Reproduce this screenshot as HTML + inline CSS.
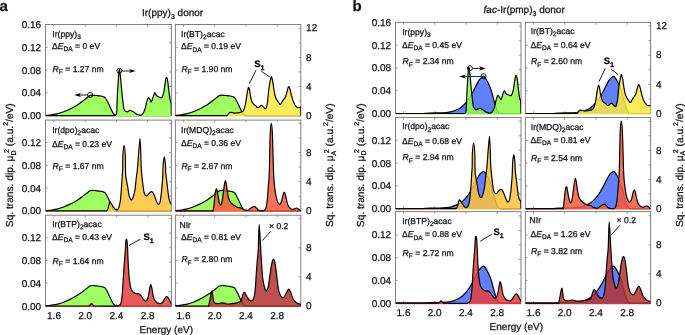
<!DOCTYPE html>
<html><head><meta charset="utf-8"><style>
html,body{margin:0;padding:0;background:#fff;width:685px;height:335px;overflow:hidden}
svg{display:block;will-change:transform}
text{font-family:"Liberation Sans",sans-serif;text-rendering:geometricPrecision;stroke:#111;stroke-width:0.25px;paint-order:stroke}
</style></head><body>
<svg width="685" height="335" viewBox="0 0 685 335" font-family='&quot;Liberation Sans&quot;, sans-serif' fill="#111">
<rect width="685" height="335" fill="#fff"/>
<clipPath id="ca00"><rect x="45.5" y="24.5" width="125.9" height="93.1"/></clipPath>
<rect x="45.5" y="24.5" width="125.9" height="91.1" fill="none" stroke="#808080" stroke-width="1"/>
<path d="M54,24.5v2.2M54,115.6v-2.2M85.24,24.5v2.2M85.24,115.6v-2.2M116.48,24.5v2.2M116.48,115.6v-2.2M147.72,24.5v2.2M147.72,115.6v-2.2M45.5,92.84h2.2M45.5,70.08h2.2M45.5,47.32h2.2M171.4,101.04h-2.2M171.4,86.48h-2.2M171.4,71.92h-2.2M171.4,57.36h-2.2M171.4,42.8h-2.2M171.4,28.24h-2.2" stroke="#808080" stroke-width="0.8" fill="none"/>
<g clip-path="url(#ca00)">
<path d="M45.5,115.5 C46.58,115.38 49.95,115.1 52,114.8 C54.05,114.5 55.85,114.2 57.8,113.7 C59.75,113.2 61.75,112.55 63.7,111.8 C65.65,111.05 67.75,110.05 69.5,109.2 C71.25,108.35 72.72,107.53 74.2,106.7 C75.68,105.87 77.02,105.1 78.4,104.2 C79.78,103.3 81.12,102.33 82.5,101.3 C83.88,100.27 85.45,98.95 86.7,98 C87.95,97.05 89.03,96.08 90,95.6 C90.97,95.12 91.52,95.12 92.5,95.1 C93.48,95.08 94.63,95.37 95.9,95.5 C97.17,95.63 98.85,95.7 100.1,95.9 C101.35,96.1 102.52,96.35 103.4,96.7 C104.28,97.05 104.62,96.98 105.4,98 C106.18,99.02 107.23,101.1 108.1,102.8 C108.97,104.5 109.87,106.65 110.6,108.2 C111.33,109.75 111.88,111.05 112.5,112.1 C113.12,113.15 113.72,113.93 114.3,114.5 C114.88,115.07 115.55,115.32 116,115.5 C116.45,115.68 116,115.58 117,115.6 C126.23,115.62 162.33,115.6 171.4,115.6 L45.5,115.6 Z" fill="#a0ff60" stroke="none"/>
<path d="M45.5,115.5 C46.58,115.38 49.95,115.1 52,114.8 C54.05,114.5 55.85,114.2 57.8,113.7 C59.75,113.2 61.75,112.55 63.7,111.8 C65.65,111.05 67.75,110.05 69.5,109.2 C71.25,108.35 72.72,107.53 74.2,106.7 C75.68,105.87 77.02,105.1 78.4,104.2 C79.78,103.3 81.12,102.33 82.5,101.3 C83.88,100.27 85.45,98.95 86.7,98 C87.95,97.05 89.03,96.08 90,95.6 C90.97,95.12 91.52,95.12 92.5,95.1 C93.48,95.08 94.63,95.37 95.9,95.5 C97.17,95.63 98.85,95.7 100.1,95.9 C101.35,96.1 102.52,96.35 103.4,96.7 C104.28,97.05 104.62,96.98 105.4,98 C106.18,99.02 107.23,101.1 108.1,102.8 C108.97,104.5 109.87,106.65 110.6,108.2 C111.33,109.75 111.88,111.05 112.5,112.1 C113.12,113.15 113.72,113.93 114.3,114.5 C114.88,115.07 115.55,115.32 116,115.5 C116.45,115.68 116,115.58 117,115.6 C126.23,115.62 162.33,115.6 171.4,115.6" fill="none" stroke="#000" stroke-width="1.2" stroke-linejoin="round"/>
<path d="M45.5,115.6 C56.83,115.6 102,115.6 113.5,115.6 C114.5,115.6 114.12,115.7 114.5,115.6 C114.88,115.5 115.44,115.57 115.8,115 C116.16,114.43 116.42,115.47 116.68,112.2 C116.94,108.93 117.12,100.42 117.37,95.4 C117.62,90.38 117.92,86 118.18,82.1 C118.44,78.2 118.68,74.05 118.91,72 C119.15,69.95 119.31,68.68 119.6,69.8 C119.89,70.92 120.27,74.98 120.64,78.7 C121.02,82.42 121.43,87.92 121.85,92.1 C122.28,96.28 122.81,100.87 123.2,103.8 C123.59,106.73 123.62,108.37 124.2,109.7 C124.78,111.03 125.87,111.62 126.7,111.8 C127.53,111.98 128.5,111.02 129.2,110.8 C129.9,110.58 130.2,110.33 130.9,110.5 C131.6,110.67 132.43,111.18 133.4,111.8 C134.37,112.42 135.58,113.63 136.7,114.2 C137.82,114.77 139.12,115.2 140.1,115.2 C141.08,115.2 141.77,115.27 142.6,114.2 C143.43,113.13 144.4,110.95 145.1,108.8 C145.8,106.65 146.25,103.18 146.8,101.3 C147.35,99.42 147.85,97.78 148.4,97.5 C148.95,97.22 149.6,98.88 150.1,99.6 C150.6,100.32 150.9,102.22 151.4,101.8 C151.9,101.38 152.53,98.58 153.1,97.1 C153.67,95.62 154.25,93.18 154.8,92.9 C155.35,92.62 155.78,94.75 156.4,95.4 C157.02,96.05 157.6,96.45 158.5,96.8 C159.4,97.15 160.92,98.28 161.8,97.5 C162.68,96.72 163.18,94.95 163.8,92.1 C164.42,89.25 165.05,82.85 165.5,80.4 C165.95,77.95 166.15,77.4 166.5,77.4 C166.85,77.4 167.22,78.23 167.6,80.4 C167.98,82.57 168.37,87.05 168.8,90.4 C169.23,93.75 169.8,98.27 170.2,100.5 C170.6,102.73 171,101.28 171.2,103.8 C171.4,106.32 171.37,113.63 171.4,115.6 L171.4,116.6 L45.5,116.6 Z" fill="#a0ff60" fill-opacity="1" stroke="none"/>
<path d="M45.5,115.6 C56.83,115.6 102,115.6 113.5,115.6 C114.5,115.6 114.12,115.7 114.5,115.6 C114.88,115.5 115.44,115.57 115.8,115 C116.16,114.43 116.42,115.47 116.68,112.2 C116.94,108.93 117.12,100.42 117.37,95.4 C117.62,90.38 117.92,86 118.18,82.1 C118.44,78.2 118.68,74.05 118.91,72 C119.15,69.95 119.31,68.68 119.6,69.8 C119.89,70.92 120.27,74.98 120.64,78.7 C121.02,82.42 121.43,87.92 121.85,92.1 C122.28,96.28 122.81,100.87 123.2,103.8 C123.59,106.73 123.62,108.37 124.2,109.7 C124.78,111.03 125.87,111.62 126.7,111.8 C127.53,111.98 128.5,111.02 129.2,110.8 C129.9,110.58 130.2,110.33 130.9,110.5 C131.6,110.67 132.43,111.18 133.4,111.8 C134.37,112.42 135.58,113.63 136.7,114.2 C137.82,114.77 139.12,115.2 140.1,115.2 C141.08,115.2 141.77,115.27 142.6,114.2 C143.43,113.13 144.4,110.95 145.1,108.8 C145.8,106.65 146.25,103.18 146.8,101.3 C147.35,99.42 147.85,97.78 148.4,97.5 C148.95,97.22 149.6,98.88 150.1,99.6 C150.6,100.32 150.9,102.22 151.4,101.8 C151.9,101.38 152.53,98.58 153.1,97.1 C153.67,95.62 154.25,93.18 154.8,92.9 C155.35,92.62 155.78,94.75 156.4,95.4 C157.02,96.05 157.6,96.45 158.5,96.8 C159.4,97.15 160.92,98.28 161.8,97.5 C162.68,96.72 163.18,94.95 163.8,92.1 C164.42,89.25 165.05,82.85 165.5,80.4 C165.95,77.95 166.15,77.4 166.5,77.4 C166.85,77.4 167.22,78.23 167.6,80.4 C167.98,82.57 168.37,87.05 168.8,90.4 C169.23,93.75 169.8,98.27 170.2,100.5 C170.6,102.73 171,101.28 171.2,103.8 C171.4,106.32 171.37,113.63 171.4,115.6" fill="none" stroke="#000" stroke-width="1.2" stroke-linejoin="round"/>
</g>
<text x="52.3" y="36.5" font-size="8.6" text-anchor="start">Ir(ppy)<tspan font-size="6.6" dy="2.3">3</tspan></text>
<text x="52" y="48.8" font-size="8.6" text-anchor="start">Δ<tspan font-style="italic">E</tspan><tspan font-size="6.6" dy="2.3">DA</tspan><tspan dy="-2.3"> = 0 eV</tspan></text>
<text x="52.6" y="71.5" font-size="8.6" text-anchor="start"><tspan font-style="italic">R</tspan><tspan font-size="6.6" dy="2.3">F</tspan><tspan dy="-2.3"> = 1.27 nm</tspan></text>
<clipPath id="ca01"><rect x="175.4" y="24.5" width="125.4" height="93.1"/></clipPath>
<rect x="175.4" y="24.5" width="125.4" height="91.1" fill="none" stroke="#808080" stroke-width="1"/>
<path d="M183.5,24.5v2.2M183.5,115.6v-2.2M214.74,24.5v2.2M214.74,115.6v-2.2M245.98,24.5v2.2M245.98,115.6v-2.2M277.22,24.5v2.2M277.22,115.6v-2.2M175.4,92.84h2.2M175.4,70.08h2.2M175.4,47.32h2.2M300.8,101.04h-2.2M300.8,86.48h-2.2M300.8,71.92h-2.2M300.8,57.36h-2.2M300.8,42.8h-2.2M300.8,28.24h-2.2" stroke="#808080" stroke-width="0.8" fill="none"/>
<g clip-path="url(#ca01)">
<path d="M175,115.5 C176.08,115.38 179.45,115.1 181.5,114.8 C183.55,114.5 185.35,114.2 187.3,113.7 C189.25,113.2 191.25,112.55 193.2,111.8 C195.15,111.05 197.25,110.05 199,109.2 C200.75,108.35 202.22,107.53 203.7,106.7 C205.18,105.87 206.52,105.1 207.9,104.2 C209.28,103.3 210.62,102.33 212,101.3 C213.38,100.27 214.95,98.95 216.2,98 C217.45,97.05 218.53,96.08 219.5,95.6 C220.47,95.12 221.02,95.12 222,95.1 C222.98,95.08 224.13,95.37 225.4,95.5 C226.67,95.63 228.35,95.7 229.6,95.9 C230.85,96.1 232.02,96.35 232.9,96.7 C233.78,97.05 234.12,96.98 234.9,98 C235.68,99.02 236.73,101.1 237.6,102.8 C238.47,104.5 239.37,106.65 240.1,108.2 C240.83,109.75 241.38,111.05 242,112.1 C242.62,113.15 243.22,113.93 243.8,114.5 C244.38,115.07 245.05,115.32 245.5,115.5 C245.95,115.68 245.5,115.58 246.5,115.6 C255.72,115.62 291.75,115.6 300.8,115.6 L175,115.6 Z" fill="#a0ff60" stroke="none"/>
<path d="M175,115.5 C176.08,115.38 179.45,115.1 181.5,114.8 C183.55,114.5 185.35,114.2 187.3,113.7 C189.25,113.2 191.25,112.55 193.2,111.8 C195.15,111.05 197.25,110.05 199,109.2 C200.75,108.35 202.22,107.53 203.7,106.7 C205.18,105.87 206.52,105.1 207.9,104.2 C209.28,103.3 210.62,102.33 212,101.3 C213.38,100.27 214.95,98.95 216.2,98 C217.45,97.05 218.53,96.08 219.5,95.6 C220.47,95.12 221.02,95.12 222,95.1 C222.98,95.08 224.13,95.37 225.4,95.5 C226.67,95.63 228.35,95.7 229.6,95.9 C230.85,96.1 232.02,96.35 232.9,96.7 C233.78,97.05 234.12,96.98 234.9,98 C235.68,99.02 236.73,101.1 237.6,102.8 C238.47,104.5 239.37,106.65 240.1,108.2 C240.83,109.75 241.38,111.05 242,112.1 C242.62,113.15 243.22,113.93 243.8,114.5 C244.38,115.07 245.05,115.32 245.5,115.5 C245.95,115.68 245.5,115.58 246.5,115.6 C255.72,115.62 291.75,115.6 300.8,115.6" fill="none" stroke="#000" stroke-width="1.2" stroke-linejoin="round"/>
<path d="M175.4,115.6 C183.75,115.6 216.98,115.6 225.5,115.6 C226.5,115.6 226.22,115.63 226.5,115.6 C226.78,115.57 226.8,115.82 227.2,115.4 C227.6,114.98 228.35,113.62 228.9,113.1 C229.45,112.58 229.87,112.38 230.5,112.3 C231.13,112.22 231.97,112.47 232.7,112.6 C233.43,112.73 234.17,113.05 234.9,113.1 C235.63,113.15 236.37,112.98 237.1,112.9 C237.83,112.82 238.55,112.75 239.3,112.6 C240.05,112.45 240.95,112.28 241.6,112 C242.25,111.72 242.7,111.63 243.2,110.9 C243.7,110.17 244.13,109.25 244.6,107.6 C245.07,105.95 245.58,103.38 246,101 C246.42,98.62 246.73,95.42 247.1,93.3 C247.47,91.18 247.93,89.27 248.2,88.3 C248.47,87.33 248.48,87.23 248.7,87.5 C248.92,87.77 249.18,88.38 249.5,89.9 C249.82,91.42 250.18,94.57 250.6,96.6 C251.02,98.63 251.48,100.82 252,102.1 C252.52,103.38 253.05,103.65 253.7,104.3 C254.35,104.95 255.23,105.45 255.9,106 C256.57,106.55 257.13,107.43 257.7,107.6 C258.27,107.77 258.7,107.38 259.3,107 C259.9,106.62 260.6,105.28 261.3,105.3 C262,105.32 262.75,106.55 263.5,107.1 C264.25,107.65 265.13,109.4 265.8,108.6 C266.47,107.8 267.03,105.23 267.5,102.3 C267.97,99.37 268.22,94.2 268.6,91 C268.98,87.8 269.42,85.27 269.8,83.1 C270.18,80.93 270.62,79.05 270.9,78 C271.18,76.95 271.22,76.33 271.5,76.8 C271.78,77.27 272.22,78.82 272.6,80.8 C272.98,82.78 273.42,86.33 273.8,88.7 C274.18,91.07 274.43,93.2 274.9,95 C275.37,96.8 275.93,98.18 276.6,99.5 C277.27,100.82 278.25,102.07 278.9,102.9 C279.55,103.73 279.87,104.87 280.5,104.5 C281.13,104.13 281.87,101.98 282.7,100.7 C283.53,99.42 284.77,98.37 285.5,96.8 C286.23,95.23 286.6,92.97 287.1,91.3 C287.6,89.63 288.03,87.18 288.5,86.8 C288.97,86.42 289.4,87.52 289.9,89 C290.4,90.48 290.95,93.67 291.5,95.7 C292.05,97.73 292.55,99.55 293.2,101.2 C293.85,102.85 294.67,104.53 295.4,105.6 C296.13,106.67 296.87,107.27 297.6,107.6 C298.33,107.93 299.28,107.65 299.8,107.6 C300.32,107.55 300.53,105.97 300.7,107.3 C300.8,108.63 300.78,114.22 300.8,115.6 L300.8,116.6 L175.4,116.6 Z" fill="rgb(255,233,63)" fill-opacity="0.85" stroke="none"/>
<path d="M175.4,115.6 C183.75,115.6 216.98,115.6 225.5,115.6 C226.5,115.6 226.22,115.63 226.5,115.6 C226.78,115.57 226.8,115.82 227.2,115.4 C227.6,114.98 228.35,113.62 228.9,113.1 C229.45,112.58 229.87,112.38 230.5,112.3 C231.13,112.22 231.97,112.47 232.7,112.6 C233.43,112.73 234.17,113.05 234.9,113.1 C235.63,113.15 236.37,112.98 237.1,112.9 C237.83,112.82 238.55,112.75 239.3,112.6 C240.05,112.45 240.95,112.28 241.6,112 C242.25,111.72 242.7,111.63 243.2,110.9 C243.7,110.17 244.13,109.25 244.6,107.6 C245.07,105.95 245.58,103.38 246,101 C246.42,98.62 246.73,95.42 247.1,93.3 C247.47,91.18 247.93,89.27 248.2,88.3 C248.47,87.33 248.48,87.23 248.7,87.5 C248.92,87.77 249.18,88.38 249.5,89.9 C249.82,91.42 250.18,94.57 250.6,96.6 C251.02,98.63 251.48,100.82 252,102.1 C252.52,103.38 253.05,103.65 253.7,104.3 C254.35,104.95 255.23,105.45 255.9,106 C256.57,106.55 257.13,107.43 257.7,107.6 C258.27,107.77 258.7,107.38 259.3,107 C259.9,106.62 260.6,105.28 261.3,105.3 C262,105.32 262.75,106.55 263.5,107.1 C264.25,107.65 265.13,109.4 265.8,108.6 C266.47,107.8 267.03,105.23 267.5,102.3 C267.97,99.37 268.22,94.2 268.6,91 C268.98,87.8 269.42,85.27 269.8,83.1 C270.18,80.93 270.62,79.05 270.9,78 C271.18,76.95 271.22,76.33 271.5,76.8 C271.78,77.27 272.22,78.82 272.6,80.8 C272.98,82.78 273.42,86.33 273.8,88.7 C274.18,91.07 274.43,93.2 274.9,95 C275.37,96.8 275.93,98.18 276.6,99.5 C277.27,100.82 278.25,102.07 278.9,102.9 C279.55,103.73 279.87,104.87 280.5,104.5 C281.13,104.13 281.87,101.98 282.7,100.7 C283.53,99.42 284.77,98.37 285.5,96.8 C286.23,95.23 286.6,92.97 287.1,91.3 C287.6,89.63 288.03,87.18 288.5,86.8 C288.97,86.42 289.4,87.52 289.9,89 C290.4,90.48 290.95,93.67 291.5,95.7 C292.05,97.73 292.55,99.55 293.2,101.2 C293.85,102.85 294.67,104.53 295.4,105.6 C296.13,106.67 296.87,107.27 297.6,107.6 C298.33,107.93 299.28,107.65 299.8,107.6 C300.32,107.55 300.53,105.97 300.7,107.3 C300.8,108.63 300.78,114.22 300.8,115.6" fill="none" stroke="#000" stroke-width="1.2" stroke-linejoin="round"/>
</g>
<text x="181" y="36.7" font-size="8.6" text-anchor="start">Ir(BT)<tspan font-size="6.6" dy="2.3">2</tspan><tspan dy="-2.3">acac</tspan></text>
<text x="180.9" y="49.3" font-size="8.6" text-anchor="start">Δ<tspan font-style="italic">E</tspan><tspan font-size="6.6" dy="2.3">DA</tspan><tspan dy="-2.3"> = 0.19 eV</tspan></text>
<text x="181.4" y="72" font-size="8.6" text-anchor="start"><tspan font-style="italic">R</tspan><tspan font-size="6.6" dy="2.3">F</tspan><tspan dy="-2.3"> = 1.90 nm</tspan></text>
<clipPath id="ca10"><rect x="45.5" y="120.1" width="125.9" height="92.7"/></clipPath>
<rect x="45.5" y="120.1" width="125.9" height="90.7" fill="none" stroke="#808080" stroke-width="1"/>
<path d="M54,120.1v2.2M54,210.8v-2.2M85.24,120.1v2.2M85.24,210.8v-2.2M116.48,120.1v2.2M116.48,210.8v-2.2M147.72,120.1v2.2M147.72,210.8v-2.2M45.5,188.04h2.2M45.5,165.28h2.2M45.5,142.52h2.2M171.4,196.24h-2.2M171.4,181.68h-2.2M171.4,167.12h-2.2M171.4,152.56h-2.2M171.4,138h-2.2M171.4,123.44h-2.2" stroke="#808080" stroke-width="0.8" fill="none"/>
<g clip-path="url(#ca10)">
<path d="M45.5,210.7 C46.58,210.58 49.95,210.3 52,210 C54.05,209.7 55.85,209.4 57.8,208.9 C59.75,208.4 61.75,207.75 63.7,207 C65.65,206.25 67.75,205.25 69.5,204.4 C71.25,203.55 72.72,202.73 74.2,201.9 C75.68,201.07 77.02,200.3 78.4,199.4 C79.78,198.5 81.12,197.53 82.5,196.5 C83.88,195.47 85.45,194.15 86.7,193.2 C87.95,192.25 89.03,191.28 90,190.8 C90.97,190.32 91.52,190.32 92.5,190.3 C93.48,190.28 94.63,190.57 95.9,190.7 C97.17,190.83 98.85,190.9 100.1,191.1 C101.35,191.3 102.52,191.55 103.4,191.9 C104.28,192.25 104.62,192.18 105.4,193.2 C106.18,194.22 107.23,196.3 108.1,198 C108.97,199.7 109.87,201.85 110.6,203.4 C111.33,204.95 111.88,206.25 112.5,207.3 C113.12,208.35 113.72,209.13 114.3,209.7 C114.88,210.27 115.55,210.52 116,210.7 C116.45,210.88 116,210.78 117,210.8 C126.23,210.82 162.33,210.8 171.4,210.8 L45.5,210.8 Z" fill="#a0ff60" stroke="none"/>
<path d="M45.5,210.7 C46.58,210.58 49.95,210.3 52,210 C54.05,209.7 55.85,209.4 57.8,208.9 C59.75,208.4 61.75,207.75 63.7,207 C65.65,206.25 67.75,205.25 69.5,204.4 C71.25,203.55 72.72,202.73 74.2,201.9 C75.68,201.07 77.02,200.3 78.4,199.4 C79.78,198.5 81.12,197.53 82.5,196.5 C83.88,195.47 85.45,194.15 86.7,193.2 C87.95,192.25 89.03,191.28 90,190.8 C90.97,190.32 91.52,190.32 92.5,190.3 C93.48,190.28 94.63,190.57 95.9,190.7 C97.17,190.83 98.85,190.9 100.1,191.1 C101.35,191.3 102.52,191.55 103.4,191.9 C104.28,192.25 104.62,192.18 105.4,193.2 C106.18,194.22 107.23,196.3 108.1,198 C108.97,199.7 109.87,201.85 110.6,203.4 C111.33,204.95 111.88,206.25 112.5,207.3 C113.12,208.35 113.72,209.13 114.3,209.7 C114.88,210.27 115.55,210.52 116,210.7 C116.45,210.88 116,210.78 117,210.8 C126.23,210.82 162.33,210.8 171.4,210.8" fill="none" stroke="#000" stroke-width="1.2" stroke-linejoin="round"/>
<path d="M45.5,210.8 C55.5,210.8 95.33,210.8 105.5,210.8 C106.5,210.8 106.12,211.05 106.5,210.8 C106.88,210.55 107.33,210.55 107.8,209.3 C108.27,208.05 108.93,204.52 109.3,203.3 C109.67,202.08 109.57,201.8 110,202 C110.43,202.2 111.27,203.57 111.9,204.5 C112.53,205.43 113.07,206.72 113.8,207.6 C114.53,208.48 115.57,209.6 116.3,209.8 C117.03,210 117.68,209.48 118.2,208.8 C118.72,208.12 119,207.37 119.4,205.7 C119.8,204.03 120.21,202.25 120.59,198.8 C120.97,195.35 121.4,188.75 121.66,185 C121.93,181.25 122.01,179 122.18,176.3 C122.36,173.6 122.61,172.05 122.71,168.8 C122.8,165.55 122.71,160.7 122.8,156.8 C123.04,152.9 123.67,145.4 124.1,145.4 C124.53,145.4 125.16,152.9 125.4,156.8 C125.49,160.7 125.43,165.63 125.49,168.8 C125.54,171.97 125.54,173.8 125.72,175.8 C125.9,177.8 126.23,178.85 126.58,180.8 C126.92,182.75 127.44,185.23 127.81,187.5 C128.18,189.77 128.42,192.62 128.8,194.4 C129.18,196.18 129.68,197.3 130.1,198.2 C130.52,199.1 130.88,199.73 131.3,199.8 C131.72,199.87 132.18,199.38 132.6,198.6 C133.02,197.82 133.38,196.73 133.8,195.1 C134.22,193.47 134.73,191.32 135.1,188.8 C135.47,186.28 135.73,182.72 136.04,180 C136.36,177.28 136.72,174.7 136.98,172.5 C137.25,170.3 137.13,172.47 137.63,166.8 C138.14,161.13 139.41,138.5 140,138.5 C140.59,138.5 140.87,160.75 141.17,166.8 C141.46,172.85 141.58,172.47 141.8,174.8 C142.01,177.13 142.23,178.88 142.45,180.8 C142.67,182.72 142.83,184.33 143.1,186.3 C143.38,188.27 143.73,191.12 144.1,192.6 C144.47,194.08 144.87,194.63 145.3,195.2 C145.73,195.77 146.2,196.15 146.7,196 C147.2,195.85 147.75,194.88 148.3,194.3 C148.85,193.72 149.45,192.95 150,192.5 C150.55,192.05 151.05,191.48 151.6,191.6 C152.15,191.72 152.75,192.28 153.3,193.2 C153.85,194.12 154.35,195.72 154.9,197.1 C155.45,198.48 156.05,200.3 156.6,201.5 C157.15,202.7 157.65,204.12 158.2,204.3 C158.75,204.48 159.46,203.8 159.9,202.6 C160.34,201.4 160.52,199.48 160.85,197.1 C161.17,194.72 161.57,191.25 161.85,188.3 C162.13,185.35 162.38,181.98 162.55,179.4 C162.72,176.82 162.77,175.32 162.88,172.8 C162.98,170.28 162.95,166.97 163.18,164.3 C163.42,161.63 163.93,156.8 164.3,156.8 C164.67,156.8 165.18,161.63 165.42,164.3 C165.65,166.97 165.49,169.92 165.72,172.8 C165.96,175.68 166.47,178.65 166.82,181.6 C167.18,184.55 167.51,187.92 167.83,190.5 C168.14,193.08 168.37,195.27 168.7,197.1 C169.03,198.93 169.35,200.3 169.8,201.5 C170.25,202.7 171.13,203.83 171.4,204.3 L171.4,211.8 L45.5,211.8 Z" fill="rgb(255,196,55)" fill-opacity="0.85" stroke="none"/>
<path d="M45.5,210.8 C55.5,210.8 95.33,210.8 105.5,210.8 C106.5,210.8 106.12,211.05 106.5,210.8 C106.88,210.55 107.33,210.55 107.8,209.3 C108.27,208.05 108.93,204.52 109.3,203.3 C109.67,202.08 109.57,201.8 110,202 C110.43,202.2 111.27,203.57 111.9,204.5 C112.53,205.43 113.07,206.72 113.8,207.6 C114.53,208.48 115.57,209.6 116.3,209.8 C117.03,210 117.68,209.48 118.2,208.8 C118.72,208.12 119,207.37 119.4,205.7 C119.8,204.03 120.21,202.25 120.59,198.8 C120.97,195.35 121.4,188.75 121.66,185 C121.93,181.25 122.01,179 122.18,176.3 C122.36,173.6 122.61,172.05 122.71,168.8 C122.8,165.55 122.71,160.7 122.8,156.8 C123.04,152.9 123.67,145.4 124.1,145.4 C124.53,145.4 125.16,152.9 125.4,156.8 C125.49,160.7 125.43,165.63 125.49,168.8 C125.54,171.97 125.54,173.8 125.72,175.8 C125.9,177.8 126.23,178.85 126.58,180.8 C126.92,182.75 127.44,185.23 127.81,187.5 C128.18,189.77 128.42,192.62 128.8,194.4 C129.18,196.18 129.68,197.3 130.1,198.2 C130.52,199.1 130.88,199.73 131.3,199.8 C131.72,199.87 132.18,199.38 132.6,198.6 C133.02,197.82 133.38,196.73 133.8,195.1 C134.22,193.47 134.73,191.32 135.1,188.8 C135.47,186.28 135.73,182.72 136.04,180 C136.36,177.28 136.72,174.7 136.98,172.5 C137.25,170.3 137.13,172.47 137.63,166.8 C138.14,161.13 139.41,138.5 140,138.5 C140.59,138.5 140.87,160.75 141.17,166.8 C141.46,172.85 141.58,172.47 141.8,174.8 C142.01,177.13 142.23,178.88 142.45,180.8 C142.67,182.72 142.83,184.33 143.1,186.3 C143.38,188.27 143.73,191.12 144.1,192.6 C144.47,194.08 144.87,194.63 145.3,195.2 C145.73,195.77 146.2,196.15 146.7,196 C147.2,195.85 147.75,194.88 148.3,194.3 C148.85,193.72 149.45,192.95 150,192.5 C150.55,192.05 151.05,191.48 151.6,191.6 C152.15,191.72 152.75,192.28 153.3,193.2 C153.85,194.12 154.35,195.72 154.9,197.1 C155.45,198.48 156.05,200.3 156.6,201.5 C157.15,202.7 157.65,204.12 158.2,204.3 C158.75,204.48 159.46,203.8 159.9,202.6 C160.34,201.4 160.52,199.48 160.85,197.1 C161.17,194.72 161.57,191.25 161.85,188.3 C162.13,185.35 162.38,181.98 162.55,179.4 C162.72,176.82 162.77,175.32 162.88,172.8 C162.98,170.28 162.95,166.97 163.18,164.3 C163.42,161.63 163.93,156.8 164.3,156.8 C164.67,156.8 165.18,161.63 165.42,164.3 C165.65,166.97 165.49,169.92 165.72,172.8 C165.96,175.68 166.47,178.65 166.82,181.6 C167.18,184.55 167.51,187.92 167.83,190.5 C168.14,193.08 168.37,195.27 168.7,197.1 C169.03,198.93 169.35,200.3 169.8,201.5 C170.25,202.7 171.13,203.83 171.4,204.3" fill="none" stroke="#000" stroke-width="1.2" stroke-linejoin="round"/>
</g>
<text x="52.2" y="133" font-size="8.6" text-anchor="start">Ir(dpo)<tspan font-size="6.6" dy="2.3">2</tspan><tspan dy="-2.3">acac</tspan></text>
<text x="51.9" y="146.7" font-size="8.6" text-anchor="start">Δ<tspan font-style="italic">E</tspan><tspan font-size="6.6" dy="2.3">DA</tspan><tspan dy="-2.3"> = 0.23 eV</tspan></text>
<text x="52.6" y="168.5" font-size="8.6" text-anchor="start"><tspan font-style="italic">R</tspan><tspan font-size="6.6" dy="2.3">F</tspan><tspan dy="-2.3"> = 1.67 nm</tspan></text>
<clipPath id="ca11"><rect x="175.4" y="120.1" width="125.4" height="92.7"/></clipPath>
<rect x="175.4" y="120.1" width="125.4" height="90.7" fill="none" stroke="#808080" stroke-width="1"/>
<path d="M183.5,120.1v2.2M183.5,210.8v-2.2M214.74,120.1v2.2M214.74,210.8v-2.2M245.98,120.1v2.2M245.98,210.8v-2.2M277.22,120.1v2.2M277.22,210.8v-2.2M175.4,188.04h2.2M175.4,165.28h2.2M175.4,142.52h2.2M300.8,196.24h-2.2M300.8,181.68h-2.2M300.8,167.12h-2.2M300.8,152.56h-2.2M300.8,138h-2.2M300.8,123.44h-2.2" stroke="#808080" stroke-width="0.8" fill="none"/>
<g clip-path="url(#ca11)">
<path d="M175,210.7 C176.08,210.58 179.45,210.3 181.5,210 C183.55,209.7 185.35,209.4 187.3,208.9 C189.25,208.4 191.25,207.75 193.2,207 C195.15,206.25 197.25,205.25 199,204.4 C200.75,203.55 202.22,202.73 203.7,201.9 C205.18,201.07 206.52,200.3 207.9,199.4 C209.28,198.5 210.62,197.53 212,196.5 C213.38,195.47 214.95,194.15 216.2,193.2 C217.45,192.25 218.53,191.28 219.5,190.8 C220.47,190.32 221.02,190.32 222,190.3 C222.98,190.28 224.13,190.57 225.4,190.7 C226.67,190.83 228.35,190.9 229.6,191.1 C230.85,191.3 232.02,191.55 232.9,191.9 C233.78,192.25 234.12,192.18 234.9,193.2 C235.68,194.22 236.73,196.3 237.6,198 C238.47,199.7 239.37,201.85 240.1,203.4 C240.83,204.95 241.38,206.25 242,207.3 C242.62,208.35 243.22,209.13 243.8,209.7 C244.38,210.27 245.05,210.52 245.5,210.7 C245.95,210.88 245.5,210.78 246.5,210.8 C255.72,210.82 291.75,210.8 300.8,210.8 L175,210.8 Z" fill="#a0ff60" stroke="none"/>
<path d="M175,210.7 C176.08,210.58 179.45,210.3 181.5,210 C183.55,209.7 185.35,209.4 187.3,208.9 C189.25,208.4 191.25,207.75 193.2,207 C195.15,206.25 197.25,205.25 199,204.4 C200.75,203.55 202.22,202.73 203.7,201.9 C205.18,201.07 206.52,200.3 207.9,199.4 C209.28,198.5 210.62,197.53 212,196.5 C213.38,195.47 214.95,194.15 216.2,193.2 C217.45,192.25 218.53,191.28 219.5,190.8 C220.47,190.32 221.02,190.32 222,190.3 C222.98,190.28 224.13,190.57 225.4,190.7 C226.67,190.83 228.35,190.9 229.6,191.1 C230.85,191.3 232.02,191.55 232.9,191.9 C233.78,192.25 234.12,192.18 234.9,193.2 C235.68,194.22 236.73,196.3 237.6,198 C238.47,199.7 239.37,201.85 240.1,203.4 C240.83,204.95 241.38,206.25 242,207.3 C242.62,208.35 243.22,209.13 243.8,209.7 C244.38,210.27 245.05,210.52 245.5,210.7 C245.95,210.88 245.5,210.78 246.5,210.8 C255.72,210.82 291.75,210.8 300.8,210.8" fill="none" stroke="#000" stroke-width="1.2" stroke-linejoin="round"/>
<path d="M175.4,210.8 C181.45,210.8 205.48,210.8 211.7,210.8 C212.7,210.8 212.45,210.87 212.7,210.8 C212.95,210.73 212.97,211.53 213.2,210.4 C213.43,209.27 213.83,206.33 214.1,204 C214.37,201.67 214.55,198.55 214.8,196.4 C215.05,194.25 215.32,192.35 215.6,191.1 C215.88,189.85 216.22,188.82 216.5,188.9 C216.78,188.98 217.03,190.35 217.3,191.6 C217.57,192.85 217.8,194.7 218.1,196.4 C218.4,198.1 218.75,200.4 219.1,201.8 C219.45,203.2 219.83,204.4 220.2,204.8 C220.57,205.2 220.93,205.05 221.3,204.2 C221.67,203.35 222.05,201.72 222.4,199.7 C222.75,197.68 223.05,194.7 223.4,192.1 C223.75,189.5 224.17,186.03 224.5,184.1 C224.83,182.17 225.1,180.5 225.4,180.5 C225.7,180.5 226,182.33 226.3,184.1 C226.6,185.87 226.87,188.95 227.2,191.1 C227.53,193.25 227.93,195.48 228.3,197 C228.67,198.52 228.95,199.22 229.4,200.2 C229.85,201.18 230.38,202.13 231,202.9 C231.62,203.67 232.38,204.27 233.1,204.8 C233.82,205.33 234.58,205.7 235.3,206.1 C236.02,206.5 236.62,206.93 237.4,207.2 C238.18,207.47 239.23,207.47 240,207.7 C240.77,207.93 241.37,208.25 242,208.6 C242.63,208.95 242.87,209.5 243.8,209.8 C244.73,210.1 246.57,210.58 247.6,210.4 C248.63,210.22 249.25,209.22 250,208.7 C250.75,208.18 251.38,207.7 252.1,207.3 C252.82,206.9 253.58,206.18 254.3,206.3 C255.02,206.42 255.68,207.37 256.4,208 C257.12,208.63 257.75,209.63 258.6,210.1 C259.45,210.57 260.55,210.72 261.5,210.8 C262.45,210.88 263.55,211.07 264.3,210.6 C265.05,210.13 265.52,209.63 266,208 C266.48,206.37 266.82,204.38 267.2,200.8 C267.58,197.22 267.95,191.27 268.3,186.5 C268.65,181.73 268.98,181 269.3,172.2 C269.62,163.4 269.87,141.85 270.2,133.7 C270.53,125.55 270.93,123.3 271.3,123.3 C271.67,123.3 272.02,125.32 272.4,133.7 C272.78,142.08 273.23,164.8 273.6,173.6 C273.97,182.4 274.18,182.68 274.6,186.5 C275.02,190.32 275.55,193.83 276.1,196.5 C276.65,199.17 277.28,201.18 277.9,202.5 C278.52,203.82 279.2,204.57 279.8,204.4 C280.4,204.23 280.93,203.17 281.5,201.5 C282.07,199.83 282.72,195.95 283.2,194.4 C283.68,192.85 284.02,192.08 284.4,192.2 C284.78,192.32 285.07,193.43 285.5,195.1 C285.93,196.77 286.47,200.25 287,202.2 C287.53,204.15 288.07,205.72 288.7,206.8 C289.33,207.88 290.08,208.27 290.8,208.7 C291.52,209.13 292.28,209.4 293,209.4 C293.72,209.4 294.5,208.93 295.1,208.7 C295.7,208.47 296.12,208 296.6,208 C297.08,208 297.42,208.27 298,208.7 C298.58,209.13 299.65,210.25 300.1,210.6 C300.55,210.95 300.58,210.77 300.7,210.8 C300.8,210.83 300.78,210.8 300.8,210.8 L300.8,211.8 L175.4,211.8 Z" fill="rgb(249,87,59)" fill-opacity="0.85" stroke="none"/>
<path d="M175.4,210.8 C181.45,210.8 205.48,210.8 211.7,210.8 C212.7,210.8 212.45,210.87 212.7,210.8 C212.95,210.73 212.97,211.53 213.2,210.4 C213.43,209.27 213.83,206.33 214.1,204 C214.37,201.67 214.55,198.55 214.8,196.4 C215.05,194.25 215.32,192.35 215.6,191.1 C215.88,189.85 216.22,188.82 216.5,188.9 C216.78,188.98 217.03,190.35 217.3,191.6 C217.57,192.85 217.8,194.7 218.1,196.4 C218.4,198.1 218.75,200.4 219.1,201.8 C219.45,203.2 219.83,204.4 220.2,204.8 C220.57,205.2 220.93,205.05 221.3,204.2 C221.67,203.35 222.05,201.72 222.4,199.7 C222.75,197.68 223.05,194.7 223.4,192.1 C223.75,189.5 224.17,186.03 224.5,184.1 C224.83,182.17 225.1,180.5 225.4,180.5 C225.7,180.5 226,182.33 226.3,184.1 C226.6,185.87 226.87,188.95 227.2,191.1 C227.53,193.25 227.93,195.48 228.3,197 C228.67,198.52 228.95,199.22 229.4,200.2 C229.85,201.18 230.38,202.13 231,202.9 C231.62,203.67 232.38,204.27 233.1,204.8 C233.82,205.33 234.58,205.7 235.3,206.1 C236.02,206.5 236.62,206.93 237.4,207.2 C238.18,207.47 239.23,207.47 240,207.7 C240.77,207.93 241.37,208.25 242,208.6 C242.63,208.95 242.87,209.5 243.8,209.8 C244.73,210.1 246.57,210.58 247.6,210.4 C248.63,210.22 249.25,209.22 250,208.7 C250.75,208.18 251.38,207.7 252.1,207.3 C252.82,206.9 253.58,206.18 254.3,206.3 C255.02,206.42 255.68,207.37 256.4,208 C257.12,208.63 257.75,209.63 258.6,210.1 C259.45,210.57 260.55,210.72 261.5,210.8 C262.45,210.88 263.55,211.07 264.3,210.6 C265.05,210.13 265.52,209.63 266,208 C266.48,206.37 266.82,204.38 267.2,200.8 C267.58,197.22 267.95,191.27 268.3,186.5 C268.65,181.73 268.98,181 269.3,172.2 C269.62,163.4 269.87,141.85 270.2,133.7 C270.53,125.55 270.93,123.3 271.3,123.3 C271.67,123.3 272.02,125.32 272.4,133.7 C272.78,142.08 273.23,164.8 273.6,173.6 C273.97,182.4 274.18,182.68 274.6,186.5 C275.02,190.32 275.55,193.83 276.1,196.5 C276.65,199.17 277.28,201.18 277.9,202.5 C278.52,203.82 279.2,204.57 279.8,204.4 C280.4,204.23 280.93,203.17 281.5,201.5 C282.07,199.83 282.72,195.95 283.2,194.4 C283.68,192.85 284.02,192.08 284.4,192.2 C284.78,192.32 285.07,193.43 285.5,195.1 C285.93,196.77 286.47,200.25 287,202.2 C287.53,204.15 288.07,205.72 288.7,206.8 C289.33,207.88 290.08,208.27 290.8,208.7 C291.52,209.13 292.28,209.4 293,209.4 C293.72,209.4 294.5,208.93 295.1,208.7 C295.7,208.47 296.12,208 296.6,208 C297.08,208 297.42,208.27 298,208.7 C298.58,209.13 299.65,210.25 300.1,210.6 C300.55,210.95 300.58,210.77 300.7,210.8 C300.8,210.83 300.78,210.8 300.8,210.8" fill="none" stroke="#000" stroke-width="1.2" stroke-linejoin="round"/>
</g>
<text x="181" y="132.9" font-size="8.6" text-anchor="start">Ir(MDQ)<tspan font-size="6.6" dy="2.3">2</tspan><tspan dy="-2.3">acac</tspan></text>
<text x="180.9" y="145.7" font-size="8.6" text-anchor="start">Δ<tspan font-style="italic">E</tspan><tspan font-size="6.6" dy="2.3">DA</tspan><tspan dy="-2.3"> = 0.36 eV</tspan></text>
<text x="181.4" y="168.5" font-size="8.6" text-anchor="start"><tspan font-style="italic">R</tspan><tspan font-size="6.6" dy="2.3">F</tspan><tspan dy="-2.3"> = 2.67 nm</tspan></text>
<clipPath id="ca20"><rect x="45.5" y="215.2" width="125.9" height="92.8"/></clipPath>
<rect x="45.5" y="215.2" width="125.9" height="90.8" fill="none" stroke="#808080" stroke-width="1"/>
<path d="M54,215.2v2.2M54,306v-2.2M85.24,215.2v2.2M85.24,306v-2.2M116.48,215.2v2.2M116.48,306v-2.2M147.72,215.2v2.2M147.72,306v-2.2M45.5,283.24h2.2M45.5,260.48h2.2M45.5,237.72h2.2M171.4,291.44h-2.2M171.4,276.88h-2.2M171.4,262.32h-2.2M171.4,247.76h-2.2M171.4,233.2h-2.2M171.4,218.64h-2.2" stroke="#808080" stroke-width="0.8" fill="none"/>
<g clip-path="url(#ca20)">
<path d="M45.5,305.9 C46.58,305.78 49.95,305.5 52,305.2 C54.05,304.9 55.85,304.6 57.8,304.1 C59.75,303.6 61.75,302.95 63.7,302.2 C65.65,301.45 67.75,300.45 69.5,299.6 C71.25,298.75 72.72,297.93 74.2,297.1 C75.68,296.27 77.02,295.5 78.4,294.6 C79.78,293.7 81.12,292.73 82.5,291.7 C83.88,290.67 85.45,289.35 86.7,288.4 C87.95,287.45 89.03,286.48 90,286 C90.97,285.52 91.52,285.52 92.5,285.5 C93.48,285.48 94.63,285.77 95.9,285.9 C97.17,286.03 98.85,286.1 100.1,286.3 C101.35,286.5 102.52,286.75 103.4,287.1 C104.28,287.45 104.62,287.38 105.4,288.4 C106.18,289.42 107.23,291.5 108.1,293.2 C108.97,294.9 109.87,297.05 110.6,298.6 C111.33,300.15 111.88,301.45 112.5,302.5 C113.12,303.55 113.72,304.33 114.3,304.9 C114.88,305.47 115.55,305.72 116,305.9 C116.45,306.08 116,305.98 117,306 C126.23,306.02 162.33,306 171.4,306 L45.5,306 Z" fill="#a0ff60" stroke="none"/>
<path d="M45.5,305.9 C46.58,305.78 49.95,305.5 52,305.2 C54.05,304.9 55.85,304.6 57.8,304.1 C59.75,303.6 61.75,302.95 63.7,302.2 C65.65,301.45 67.75,300.45 69.5,299.6 C71.25,298.75 72.72,297.93 74.2,297.1 C75.68,296.27 77.02,295.5 78.4,294.6 C79.78,293.7 81.12,292.73 82.5,291.7 C83.88,290.67 85.45,289.35 86.7,288.4 C87.95,287.45 89.03,286.48 90,286 C90.97,285.52 91.52,285.52 92.5,285.5 C93.48,285.48 94.63,285.77 95.9,285.9 C97.17,286.03 98.85,286.1 100.1,286.3 C101.35,286.5 102.52,286.75 103.4,287.1 C104.28,287.45 104.62,287.38 105.4,288.4 C106.18,289.42 107.23,291.5 108.1,293.2 C108.97,294.9 109.87,297.05 110.6,298.6 C111.33,300.15 111.88,301.45 112.5,302.5 C113.12,303.55 113.72,304.33 114.3,304.9 C114.88,305.47 115.55,305.72 116,305.9 C116.45,306.08 116,305.98 117,306 C126.23,306.02 162.33,306 171.4,306" fill="none" stroke="#000" stroke-width="1.2" stroke-linejoin="round"/>
<path d="M45.5,306 C52.5,306 80.33,306 87.5,306 C88.5,306 88.17,306.07 88.5,306 C88.83,305.93 89,305.98 89.5,305.6 C90,305.22 90.83,303.7 91.5,303.7 C92.17,303.7 93,305.22 93.5,305.6 C94,305.98 93.5,305.93 94.5,306 C98.5,306.07 113.5,306.08 117.5,306 C118.5,305.92 118,305.77 118.5,305.5 C119,305.23 119.98,305.32 120.5,304.4 C121.02,303.48 121.28,302.02 121.6,300 C121.92,297.98 122.13,295.67 122.4,292.3 C122.67,288.93 122.93,283.95 123.2,279.8 C123.47,275.65 123.75,271.02 124,267.4 C124.25,263.78 124.48,260.92 124.7,258.1 C124.92,255.28 125.07,253.57 125.3,250.5 C125.53,247.43 125.77,240.82 126.1,239.7 C126.43,238.58 126.92,239.18 127.3,243.8 C127.68,248.42 128.05,261.4 128.4,267.4 C128.75,273.4 128.98,276.3 129.4,279.8 C129.82,283.3 130.25,286.32 130.9,288.4 C131.55,290.48 132.38,291.4 133.3,292.3 C134.22,293.2 135.5,293.55 136.4,293.8 C137.3,294.05 137.93,293.48 138.7,293.8 C139.47,294.12 140.22,294.78 141,295.7 C141.78,296.62 142.62,298.37 143.4,299.3 C144.18,300.23 144.93,301.57 145.7,301.3 C146.47,301.03 147.35,299.72 148,297.7 C148.65,295.68 149.17,291.4 149.6,289.2 C150.03,287 150.22,284.63 150.6,284.5 C150.98,284.37 151.43,286.33 151.9,288.4 C152.37,290.47 152.75,294.7 153.4,296.9 C154.05,299.1 154.88,300.52 155.8,301.6 C156.72,302.68 157.87,303.15 158.9,303.4 C159.93,303.65 161.1,303.78 162,303.1 C162.9,302.42 163.53,300.38 164.3,299.3 C165.07,298.22 165.88,296.73 166.6,296.6 C167.32,296.47 167.95,297.53 168.6,298.5 C169.25,299.47 169.93,301.42 170.5,302.4 C171.07,303.38 171.75,304.07 172,304.4 L172,307 L45.5,307 Z" fill="rgb(231,61,61)" fill-opacity="0.85" stroke="none"/>
<path d="M45.5,306 C52.5,306 80.33,306 87.5,306 C88.5,306 88.17,306.07 88.5,306 C88.83,305.93 89,305.98 89.5,305.6 C90,305.22 90.83,303.7 91.5,303.7 C92.17,303.7 93,305.22 93.5,305.6 C94,305.98 93.5,305.93 94.5,306 C98.5,306.07 113.5,306.08 117.5,306 C118.5,305.92 118,305.77 118.5,305.5 C119,305.23 119.98,305.32 120.5,304.4 C121.02,303.48 121.28,302.02 121.6,300 C121.92,297.98 122.13,295.67 122.4,292.3 C122.67,288.93 122.93,283.95 123.2,279.8 C123.47,275.65 123.75,271.02 124,267.4 C124.25,263.78 124.48,260.92 124.7,258.1 C124.92,255.28 125.07,253.57 125.3,250.5 C125.53,247.43 125.77,240.82 126.1,239.7 C126.43,238.58 126.92,239.18 127.3,243.8 C127.68,248.42 128.05,261.4 128.4,267.4 C128.75,273.4 128.98,276.3 129.4,279.8 C129.82,283.3 130.25,286.32 130.9,288.4 C131.55,290.48 132.38,291.4 133.3,292.3 C134.22,293.2 135.5,293.55 136.4,293.8 C137.3,294.05 137.93,293.48 138.7,293.8 C139.47,294.12 140.22,294.78 141,295.7 C141.78,296.62 142.62,298.37 143.4,299.3 C144.18,300.23 144.93,301.57 145.7,301.3 C146.47,301.03 147.35,299.72 148,297.7 C148.65,295.68 149.17,291.4 149.6,289.2 C150.03,287 150.22,284.63 150.6,284.5 C150.98,284.37 151.43,286.33 151.9,288.4 C152.37,290.47 152.75,294.7 153.4,296.9 C154.05,299.1 154.88,300.52 155.8,301.6 C156.72,302.68 157.87,303.15 158.9,303.4 C159.93,303.65 161.1,303.78 162,303.1 C162.9,302.42 163.53,300.38 164.3,299.3 C165.07,298.22 165.88,296.73 166.6,296.6 C167.32,296.47 167.95,297.53 168.6,298.5 C169.25,299.47 169.93,301.42 170.5,302.4 C171.07,303.38 171.75,304.07 172,304.4" fill="none" stroke="#000" stroke-width="1.2" stroke-linejoin="round"/>
</g>
<text x="52.2" y="226.9" font-size="8.6" text-anchor="start">Ir(BTP)<tspan font-size="6.6" dy="2.3">2</tspan><tspan dy="-2.3">acac</tspan></text>
<text x="51.9" y="239.5" font-size="8.6" text-anchor="start">Δ<tspan font-style="italic">E</tspan><tspan font-size="6.6" dy="2.3">DA</tspan><tspan dy="-2.3"> = 0.43 eV</tspan></text>
<text x="52.6" y="263.5" font-size="8.6" text-anchor="start"><tspan font-style="italic">R</tspan><tspan font-size="6.6" dy="2.3">F</tspan><tspan dy="-2.3"> = 1.64 nm</tspan></text>
<clipPath id="ca21"><rect x="175.4" y="215.2" width="125.4" height="92.8"/></clipPath>
<rect x="175.4" y="215.2" width="125.4" height="90.8" fill="none" stroke="#808080" stroke-width="1"/>
<path d="M183.5,215.2v2.2M183.5,306v-2.2M214.74,215.2v2.2M214.74,306v-2.2M245.98,215.2v2.2M245.98,306v-2.2M277.22,215.2v2.2M277.22,306v-2.2M175.4,283.24h2.2M175.4,260.48h2.2M175.4,237.72h2.2M300.8,276.88h-2.2M300.8,247.76h-2.2M300.8,218.64h-2.2" stroke="#808080" stroke-width="0.8" fill="none"/>
<g clip-path="url(#ca21)">
<path d="M175,305.9 C176.08,305.78 179.45,305.5 181.5,305.2 C183.55,304.9 185.35,304.6 187.3,304.1 C189.25,303.6 191.25,302.95 193.2,302.2 C195.15,301.45 197.25,300.45 199,299.6 C200.75,298.75 202.22,297.93 203.7,297.1 C205.18,296.27 206.52,295.5 207.9,294.6 C209.28,293.7 210.62,292.73 212,291.7 C213.38,290.67 214.95,289.35 216.2,288.4 C217.45,287.45 218.53,286.48 219.5,286 C220.47,285.52 221.02,285.52 222,285.5 C222.98,285.48 224.13,285.77 225.4,285.9 C226.67,286.03 228.35,286.1 229.6,286.3 C230.85,286.5 232.02,286.75 232.9,287.1 C233.78,287.45 234.12,287.38 234.9,288.4 C235.68,289.42 236.73,291.5 237.6,293.2 C238.47,294.9 239.37,297.05 240.1,298.6 C240.83,300.15 241.38,301.45 242,302.5 C242.62,303.55 243.22,304.33 243.8,304.9 C244.38,305.47 245.05,305.72 245.5,305.9 C245.95,306.08 245.5,305.98 246.5,306 C255.72,306.02 291.75,306 300.8,306 L175,306 Z" fill="#a0ff60" stroke="none"/>
<path d="M175,305.9 C176.08,305.78 179.45,305.5 181.5,305.2 C183.55,304.9 185.35,304.6 187.3,304.1 C189.25,303.6 191.25,302.95 193.2,302.2 C195.15,301.45 197.25,300.45 199,299.6 C200.75,298.75 202.22,297.93 203.7,297.1 C205.18,296.27 206.52,295.5 207.9,294.6 C209.28,293.7 210.62,292.73 212,291.7 C213.38,290.67 214.95,289.35 216.2,288.4 C217.45,287.45 218.53,286.48 219.5,286 C220.47,285.52 221.02,285.52 222,285.5 C222.98,285.48 224.13,285.77 225.4,285.9 C226.67,286.03 228.35,286.1 229.6,286.3 C230.85,286.5 232.02,286.75 232.9,287.1 C233.78,287.45 234.12,287.38 234.9,288.4 C235.68,289.42 236.73,291.5 237.6,293.2 C238.47,294.9 239.37,297.05 240.1,298.6 C240.83,300.15 241.38,301.45 242,302.5 C242.62,303.55 243.22,304.33 243.8,304.9 C244.38,305.47 245.05,305.72 245.5,305.9 C245.95,306.08 245.5,305.98 246.5,306 C255.72,306.02 291.75,306 300.8,306" fill="none" stroke="#000" stroke-width="1.2" stroke-linejoin="round"/>
<path d="M175.4,306 C180.67,306 201.57,306 207,306 C208,306 207.7,306.1 208,306 C208.3,305.9 208.38,306.98 208.8,305.4 C209.22,303.82 210,298.9 210.5,296.5 C211,294.1 211.43,291.18 211.8,291 C212.17,290.82 212.42,293.75 212.7,295.4 C212.98,297.05 213.13,299.62 213.5,300.9 C213.87,302.18 214.12,302.63 214.9,303.1 C215.68,303.57 217.1,303.73 218.2,303.7 C219.3,303.67 220.5,303 221.5,302.9 C222.5,302.8 223.28,302.92 224.2,303.1 C225.12,303.28 225.8,303.9 227,304 C228.2,304.1 229.93,303.85 231.4,303.7 C232.87,303.55 234.5,303.38 235.8,303.1 C237.1,302.82 238.33,302.35 239.2,302 C240.07,301.65 240.42,302.15 241,301 C241.58,299.85 242.13,296.57 242.7,295.1 C243.27,293.63 243.83,292.2 244.4,292.2 C244.97,292.2 245.4,293.92 246.1,295.1 C246.8,296.28 247.75,298.32 248.6,299.3 C249.45,300.28 250.4,301 251.2,301 C252,301 252.75,301 253.4,299.3 C254.05,297.6 254.64,294.77 255.1,290.8 C255.56,286.83 255.8,280.6 256.17,275.5 C256.54,270.4 256.95,264.45 257.3,260.2 C257.65,255.95 257.94,255.93 258.26,250 C258.58,244.07 258.79,224.6 259.2,224.6 C259.61,224.6 260.34,243.5 260.74,250 C261.14,256.5 261.24,258.78 261.58,263.6 C261.93,268.42 262.26,274.78 262.8,278.9 C263.34,283.02 264.18,286.32 264.8,288.3 C265.42,290.28 265.93,291.08 266.5,290.8 C267.07,290.52 267.63,289.15 268.2,286.6 C268.77,284.05 269.33,279.18 269.9,275.5 C270.47,271.82 271.03,267.18 271.6,264.5 C272.17,261.82 272.73,259.68 273.3,259.4 C273.87,259.12 274.43,260.12 275,262.8 C275.57,265.48 276.13,271.12 276.7,275.5 C277.27,279.88 277.75,285.7 278.4,289.1 C279.05,292.5 279.75,294.48 280.6,295.9 C281.45,297.32 282.58,298.02 283.5,297.6 C284.42,297.18 285.23,294.82 286.1,293.4 C286.97,291.98 287.98,289.38 288.7,289.1 C289.42,288.82 289.7,290.13 290.4,291.7 C291.1,293.27 292.05,296.8 292.9,298.5 C293.75,300.2 294.65,301.05 295.5,301.9 C296.35,302.75 297.15,303.23 298,303.6 C298.85,303.97 300.13,303.7 300.6,304.1 C300.8,304.5 300.77,305.68 300.8,306 L300.8,307 L175.4,307 Z" fill="rgb(179,49,49)" fill-opacity="0.85" stroke="none"/>
<path d="M175.4,306 C180.67,306 201.57,306 207,306 C208,306 207.7,306.1 208,306 C208.3,305.9 208.38,306.98 208.8,305.4 C209.22,303.82 210,298.9 210.5,296.5 C211,294.1 211.43,291.18 211.8,291 C212.17,290.82 212.42,293.75 212.7,295.4 C212.98,297.05 213.13,299.62 213.5,300.9 C213.87,302.18 214.12,302.63 214.9,303.1 C215.68,303.57 217.1,303.73 218.2,303.7 C219.3,303.67 220.5,303 221.5,302.9 C222.5,302.8 223.28,302.92 224.2,303.1 C225.12,303.28 225.8,303.9 227,304 C228.2,304.1 229.93,303.85 231.4,303.7 C232.87,303.55 234.5,303.38 235.8,303.1 C237.1,302.82 238.33,302.35 239.2,302 C240.07,301.65 240.42,302.15 241,301 C241.58,299.85 242.13,296.57 242.7,295.1 C243.27,293.63 243.83,292.2 244.4,292.2 C244.97,292.2 245.4,293.92 246.1,295.1 C246.8,296.28 247.75,298.32 248.6,299.3 C249.45,300.28 250.4,301 251.2,301 C252,301 252.75,301 253.4,299.3 C254.05,297.6 254.64,294.77 255.1,290.8 C255.56,286.83 255.8,280.6 256.17,275.5 C256.54,270.4 256.95,264.45 257.3,260.2 C257.65,255.95 257.94,255.93 258.26,250 C258.58,244.07 258.79,224.6 259.2,224.6 C259.61,224.6 260.34,243.5 260.74,250 C261.14,256.5 261.24,258.78 261.58,263.6 C261.93,268.42 262.26,274.78 262.8,278.9 C263.34,283.02 264.18,286.32 264.8,288.3 C265.42,290.28 265.93,291.08 266.5,290.8 C267.07,290.52 267.63,289.15 268.2,286.6 C268.77,284.05 269.33,279.18 269.9,275.5 C270.47,271.82 271.03,267.18 271.6,264.5 C272.17,261.82 272.73,259.68 273.3,259.4 C273.87,259.12 274.43,260.12 275,262.8 C275.57,265.48 276.13,271.12 276.7,275.5 C277.27,279.88 277.75,285.7 278.4,289.1 C279.05,292.5 279.75,294.48 280.6,295.9 C281.45,297.32 282.58,298.02 283.5,297.6 C284.42,297.18 285.23,294.82 286.1,293.4 C286.97,291.98 287.98,289.38 288.7,289.1 C289.42,288.82 289.7,290.13 290.4,291.7 C291.1,293.27 292.05,296.8 292.9,298.5 C293.75,300.2 294.65,301.05 295.5,301.9 C296.35,302.75 297.15,303.23 298,303.6 C298.85,303.97 300.13,303.7 300.6,304.1 C300.8,304.5 300.77,305.68 300.8,306" fill="none" stroke="#000" stroke-width="1.2" stroke-linejoin="round"/>
</g>
<text x="179.5" y="228" font-size="8.6" text-anchor="start">NIr</text>
<text x="180.9" y="239.5" font-size="8.6" text-anchor="start">Δ<tspan font-style="italic">E</tspan><tspan font-size="6.6" dy="2.3">DA</tspan><tspan dy="-2.3"> = 0.81 eV</tspan></text>
<text x="181.4" y="262.3" font-size="8.6" text-anchor="start"><tspan font-style="italic">R</tspan><tspan font-size="6.6" dy="2.3">F</tspan><tspan dy="-2.3"> = 2.80 nm</tspan></text>
<text x="41.2" y="28.06" font-size="10" text-anchor="end">0.16</text>
<text x="41.2" y="50.82" font-size="10" text-anchor="end">0.12</text>
<text x="41.2" y="73.58" font-size="10" text-anchor="end">0.08</text>
<text x="41.2" y="96.34" font-size="10" text-anchor="end">0.04</text>
<text x="41.2" y="119.1" font-size="10" text-anchor="end">0.00</text>
<text x="306.1" y="31.44" font-size="10" text-anchor="start">12</text>
<text x="306.1" y="60.56" font-size="10" text-anchor="start">8</text>
<text x="306.1" y="89.68" font-size="10" text-anchor="start">4</text>
<text x="306.1" y="118.8" font-size="10" text-anchor="start">0</text>
<text x="41.2" y="146.02" font-size="10" text-anchor="end">0.12</text>
<text x="41.2" y="168.78" font-size="10" text-anchor="end">0.08</text>
<text x="41.2" y="191.54" font-size="10" text-anchor="end">0.04</text>
<text x="41.2" y="214.3" font-size="10" text-anchor="end">0.00</text>
<text x="306.1" y="155.76" font-size="10" text-anchor="start">8</text>
<text x="306.1" y="184.88" font-size="10" text-anchor="start">4</text>
<text x="306.1" y="214" font-size="10" text-anchor="start">0</text>
<text x="41.2" y="241.22" font-size="10" text-anchor="end">0.12</text>
<text x="41.2" y="263.98" font-size="10" text-anchor="end">0.08</text>
<text x="41.2" y="286.74" font-size="10" text-anchor="end">0.04</text>
<text x="41.2" y="309.5" font-size="10" text-anchor="end">0.00</text>
<text x="306.1" y="250.96" font-size="10" text-anchor="start">8</text>
<text x="306.1" y="280.08" font-size="10" text-anchor="start">4</text>
<text x="306.1" y="309.2" font-size="10" text-anchor="start">0</text>
<text x="54" y="318.5" font-size="10" text-anchor="middle">1.6</text>
<text x="85.24" y="318.5" font-size="10" text-anchor="middle">2.0</text>
<text x="116.48" y="318.5" font-size="10" text-anchor="middle">2.4</text>
<text x="147.72" y="318.5" font-size="10" text-anchor="middle">2.8</text>
<text x="183.5" y="318.5" font-size="10" text-anchor="middle">1.6</text>
<text x="214.74" y="318.5" font-size="10" text-anchor="middle">2.0</text>
<text x="245.98" y="318.5" font-size="10" text-anchor="middle">2.4</text>
<text x="277.22" y="318.5" font-size="10" text-anchor="middle">2.8</text>
<clipPath id="cb00"><rect x="395.5" y="22.4" width="125.5" height="93.1"/></clipPath>
<rect x="395.5" y="22.4" width="125.5" height="91.1" fill="none" stroke="#808080" stroke-width="1"/>
<path d="M403.5,22.4v2.2M403.5,113.5v-2.2M434.74,22.4v2.2M434.74,113.5v-2.2M465.98,22.4v2.2M465.98,113.5v-2.2M497.22,22.4v2.2M497.22,113.5v-2.2M395.5,90.74h2.2M395.5,67.98h2.2M395.5,45.22h2.2M521,98.94h-2.2M521,84.38h-2.2M521,69.82h-2.2M521,55.26h-2.2M521,40.7h-2.2M521,26.14h-2.2" stroke="#808080" stroke-width="0.8" fill="none"/>
<g clip-path="url(#cb00)">
<path d="M395.5,113.5 C400,113.5 417.83,113.5 422.5,113.5 C423.5,113.5 422.5,113.58 423.5,113.5 C424.75,113.42 427.27,113.1 430,113 C432.73,112.9 437.17,112.98 439.9,112.9 C442.63,112.82 444.48,112.7 446.4,112.5 C448.32,112.3 449.68,112.15 451.4,111.7 C453.12,111.25 455.22,110.43 456.7,109.8 C458.18,109.17 459.08,108.73 460.3,107.9 C461.52,107.07 462.87,105.92 464,104.8 C465.13,103.68 466.08,102.52 467.1,101.2 C468.12,99.88 469.08,98.52 470.1,96.9 C471.12,95.28 472.17,93.43 473.2,91.5 C474.23,89.57 475.28,87.23 476.3,85.3 C477.32,83.37 478.38,81.23 479.3,79.9 C480.22,78.57 481.1,77.88 481.8,77.3 C482.5,76.72 482.9,76.27 483.5,76.4 C484.1,76.53 484.62,77 485.4,78.1 C486.18,79.2 487.28,81.08 488.2,83 C489.12,84.92 490.1,87.28 490.9,89.6 C491.7,91.92 492.32,94.45 493,96.9 C493.68,99.35 494.4,102.23 495,104.3 C495.6,106.37 496.07,107.98 496.6,109.3 C497.13,110.62 497.67,111.55 498.2,112.2 C498.73,112.85 499.28,112.98 499.8,113.2 C500.32,113.42 499.8,113.45 501.3,113.5 C504.83,113.55 517.72,113.5 521,113.5 L395.5,113.5 Z" fill="#6080ff" stroke="none"/>
<path d="M395.5,113.5 C400,113.5 417.83,113.5 422.5,113.5 C423.5,113.5 422.5,113.58 423.5,113.5 C424.75,113.42 427.27,113.1 430,113 C432.73,112.9 437.17,112.98 439.9,112.9 C442.63,112.82 444.48,112.7 446.4,112.5 C448.32,112.3 449.68,112.15 451.4,111.7 C453.12,111.25 455.22,110.43 456.7,109.8 C458.18,109.17 459.08,108.73 460.3,107.9 C461.52,107.07 462.87,105.92 464,104.8 C465.13,103.68 466.08,102.52 467.1,101.2 C468.12,99.88 469.08,98.52 470.1,96.9 C471.12,95.28 472.17,93.43 473.2,91.5 C474.23,89.57 475.28,87.23 476.3,85.3 C477.32,83.37 478.38,81.23 479.3,79.9 C480.22,78.57 481.1,77.88 481.8,77.3 C482.5,76.72 482.9,76.27 483.5,76.4 C484.1,76.53 484.62,77 485.4,78.1 C486.18,79.2 487.28,81.08 488.2,83 C489.12,84.92 490.1,87.28 490.9,89.6 C491.7,91.92 492.32,94.45 493,96.9 C493.68,99.35 494.4,102.23 495,104.3 C495.6,106.37 496.07,107.98 496.6,109.3 C497.13,110.62 497.67,111.55 498.2,112.2 C498.73,112.85 499.28,112.98 499.8,113.2 C500.32,113.42 499.8,113.45 501.3,113.5 C504.83,113.55 517.72,113.5 521,113.5" fill="none" stroke="#000" stroke-width="1.2" stroke-linejoin="round"/>
<path d="M395.5,113.5 C406.75,113.5 451.58,113.5 463,113.5 C464,113.5 463.62,113.6 464,113.5 C464.38,113.4 464.94,113.47 465.3,112.9 C465.66,112.33 465.92,113.37 466.18,110.1 C466.44,106.83 466.62,98.32 466.87,93.3 C467.12,88.28 467.42,83.9 467.68,80 C467.94,76.1 468.18,71.95 468.41,69.9 C468.65,67.85 468.81,66.58 469.1,67.7 C469.39,68.82 469.77,72.88 470.14,76.6 C470.52,80.32 470.93,85.82 471.35,90 C471.78,94.18 472.31,98.77 472.7,101.7 C473.09,104.63 473.12,106.27 473.7,107.6 C474.28,108.93 475.37,109.52 476.2,109.7 C477.03,109.88 478,108.92 478.7,108.7 C479.4,108.48 479.7,108.23 480.4,108.4 C481.1,108.57 481.93,109.08 482.9,109.7 C483.87,110.32 485.08,111.53 486.2,112.1 C487.32,112.67 488.62,113.1 489.6,113.1 C490.58,113.1 491.27,113.17 492.1,112.1 C492.93,111.03 493.9,108.85 494.6,106.7 C495.3,104.55 495.75,101.08 496.3,99.2 C496.85,97.32 497.35,95.68 497.9,95.4 C498.45,95.12 499.1,96.78 499.6,97.5 C500.1,98.22 500.4,100.12 500.9,99.7 C501.4,99.28 502.03,96.48 502.6,95 C503.17,93.52 503.75,91.08 504.3,90.8 C504.85,90.52 505.28,92.65 505.9,93.3 C506.52,93.95 507.1,94.35 508,94.7 C508.9,95.05 510.42,96.18 511.3,95.4 C512.18,94.62 512.68,92.85 513.3,90 C513.92,87.15 514.55,80.75 515,78.3 C515.45,75.85 515.65,75.3 516,75.3 C516.35,75.3 516.72,76.13 517.1,78.3 C517.48,80.47 517.87,84.95 518.3,88.3 C518.73,91.65 519.3,96.17 519.7,98.4 C520.1,100.63 520.48,99.18 520.7,101.7 C520.92,104.22 520.95,111.53 521,113.5 L521,114.5 L395.5,114.5 Z" fill="rgb(141,251,68)" fill-opacity="0.85" stroke="none"/>
<path d="M395.5,113.5 C406.75,113.5 451.58,113.5 463,113.5 C464,113.5 463.62,113.6 464,113.5 C464.38,113.4 464.94,113.47 465.3,112.9 C465.66,112.33 465.92,113.37 466.18,110.1 C466.44,106.83 466.62,98.32 466.87,93.3 C467.12,88.28 467.42,83.9 467.68,80 C467.94,76.1 468.18,71.95 468.41,69.9 C468.65,67.85 468.81,66.58 469.1,67.7 C469.39,68.82 469.77,72.88 470.14,76.6 C470.52,80.32 470.93,85.82 471.35,90 C471.78,94.18 472.31,98.77 472.7,101.7 C473.09,104.63 473.12,106.27 473.7,107.6 C474.28,108.93 475.37,109.52 476.2,109.7 C477.03,109.88 478,108.92 478.7,108.7 C479.4,108.48 479.7,108.23 480.4,108.4 C481.1,108.57 481.93,109.08 482.9,109.7 C483.87,110.32 485.08,111.53 486.2,112.1 C487.32,112.67 488.62,113.1 489.6,113.1 C490.58,113.1 491.27,113.17 492.1,112.1 C492.93,111.03 493.9,108.85 494.6,106.7 C495.3,104.55 495.75,101.08 496.3,99.2 C496.85,97.32 497.35,95.68 497.9,95.4 C498.45,95.12 499.1,96.78 499.6,97.5 C500.1,98.22 500.4,100.12 500.9,99.7 C501.4,99.28 502.03,96.48 502.6,95 C503.17,93.52 503.75,91.08 504.3,90.8 C504.85,90.52 505.28,92.65 505.9,93.3 C506.52,93.95 507.1,94.35 508,94.7 C508.9,95.05 510.42,96.18 511.3,95.4 C512.18,94.62 512.68,92.85 513.3,90 C513.92,87.15 514.55,80.75 515,78.3 C515.45,75.85 515.65,75.3 516,75.3 C516.35,75.3 516.72,76.13 517.1,78.3 C517.48,80.47 517.87,84.95 518.3,88.3 C518.73,91.65 519.3,96.17 519.7,98.4 C520.1,100.63 520.48,99.18 520.7,101.7 C520.92,104.22 520.95,111.53 521,113.5" fill="none" stroke="#000" stroke-width="1.2" stroke-linejoin="round"/>
</g>
<text x="402.2" y="34.5" font-size="8.6" text-anchor="start">Ir(ppy)<tspan font-size="6.6" dy="2.3">3</tspan></text>
<text x="401.9" y="47.7" font-size="8.6" text-anchor="start">Δ<tspan font-style="italic">E</tspan><tspan font-size="6.6" dy="2.3">DA</tspan><tspan dy="-2.3"> = 0.45 eV</tspan></text>
<text x="402.6" y="64.3" font-size="8.6" text-anchor="start"><tspan font-style="italic">R</tspan><tspan font-size="6.6" dy="2.3">F</tspan><tspan dy="-2.3"> = 2.34 nm</tspan></text>
<clipPath id="cb01"><rect x="525.4" y="22.4" width="125.2" height="93.1"/></clipPath>
<rect x="525.4" y="22.4" width="125.2" height="91.1" fill="none" stroke="#808080" stroke-width="1"/>
<path d="M533.5,22.4v2.2M533.5,113.5v-2.2M564.74,22.4v2.2M564.74,113.5v-2.2M595.98,22.4v2.2M595.98,113.5v-2.2M627.22,22.4v2.2M627.22,113.5v-2.2M525.4,90.74h2.2M525.4,67.98h2.2M525.4,45.22h2.2M650.6,98.94h-2.2M650.6,84.38h-2.2M650.6,69.82h-2.2M650.6,55.26h-2.2M650.6,40.7h-2.2M650.6,26.14h-2.2" stroke="#808080" stroke-width="0.8" fill="none"/>
<g clip-path="url(#cb01)">
<path d="M525.4,113.5 C529.92,113.5 547.82,113.5 552.5,113.5 C553.5,113.5 552.5,113.58 553.5,113.5 C554.75,113.42 557.27,113.1 560,113 C562.73,112.9 567.17,112.98 569.9,112.9 C572.63,112.82 574.48,112.7 576.4,112.5 C578.32,112.3 579.68,112.15 581.4,111.7 C583.12,111.25 585.22,110.43 586.7,109.8 C588.18,109.17 589.08,108.73 590.3,107.9 C591.52,107.07 592.87,105.92 594,104.8 C595.13,103.68 596.08,102.52 597.1,101.2 C598.12,99.88 599.08,98.52 600.1,96.9 C601.12,95.28 602.17,93.43 603.2,91.5 C604.23,89.57 605.28,87.23 606.3,85.3 C607.32,83.37 608.38,81.23 609.3,79.9 C610.22,78.57 611.1,77.88 611.8,77.3 C612.5,76.72 612.9,76.27 613.5,76.4 C614.1,76.53 614.62,77 615.4,78.1 C616.18,79.2 617.28,81.08 618.2,83 C619.12,84.92 620.1,87.28 620.9,89.6 C621.7,91.92 622.32,94.45 623,96.9 C623.68,99.35 624.4,102.23 625,104.3 C625.6,106.37 626.07,107.98 626.6,109.3 C627.13,110.62 627.67,111.55 628.2,112.2 C628.73,112.85 629.28,112.98 629.8,113.2 C630.32,113.42 629.8,113.45 631.3,113.5 C634.77,113.55 647.38,113.5 650.6,113.5 L525.4,113.5 Z" fill="#6080ff" stroke="none"/>
<path d="M525.4,113.5 C529.92,113.5 547.82,113.5 552.5,113.5 C553.5,113.5 552.5,113.58 553.5,113.5 C554.75,113.42 557.27,113.1 560,113 C562.73,112.9 567.17,112.98 569.9,112.9 C572.63,112.82 574.48,112.7 576.4,112.5 C578.32,112.3 579.68,112.15 581.4,111.7 C583.12,111.25 585.22,110.43 586.7,109.8 C588.18,109.17 589.08,108.73 590.3,107.9 C591.52,107.07 592.87,105.92 594,104.8 C595.13,103.68 596.08,102.52 597.1,101.2 C598.12,99.88 599.08,98.52 600.1,96.9 C601.12,95.28 602.17,93.43 603.2,91.5 C604.23,89.57 605.28,87.23 606.3,85.3 C607.32,83.37 608.38,81.23 609.3,79.9 C610.22,78.57 611.1,77.88 611.8,77.3 C612.5,76.72 612.9,76.27 613.5,76.4 C614.1,76.53 614.62,77 615.4,78.1 C616.18,79.2 617.28,81.08 618.2,83 C619.12,84.92 620.1,87.28 620.9,89.6 C621.7,91.92 622.32,94.45 623,96.9 C623.68,99.35 624.4,102.23 625,104.3 C625.6,106.37 626.07,107.98 626.6,109.3 C627.13,110.62 627.67,111.55 628.2,112.2 C628.73,112.85 629.28,112.98 629.8,113.2 C630.32,113.42 629.8,113.45 631.3,113.5 C634.77,113.55 647.38,113.5 650.6,113.5" fill="none" stroke="#000" stroke-width="1.2" stroke-linejoin="round"/>
<path d="M525.4,113.5 C533.75,113.5 566.98,113.5 575.5,113.5 C576.5,113.5 576.22,113.53 576.5,113.5 C576.78,113.47 576.8,113.72 577.2,113.3 C577.6,112.88 578.35,111.52 578.9,111 C579.45,110.48 579.87,110.28 580.5,110.2 C581.13,110.12 581.97,110.37 582.7,110.5 C583.43,110.63 584.17,110.95 584.9,111 C585.63,111.05 586.37,110.88 587.1,110.8 C587.83,110.72 588.55,110.65 589.3,110.5 C590.05,110.35 590.95,110.18 591.6,109.9 C592.25,109.62 592.7,109.53 593.2,108.8 C593.7,108.07 594.13,107.15 594.6,105.5 C595.07,103.85 595.58,101.28 596,98.9 C596.42,96.52 596.73,93.32 597.1,91.2 C597.47,89.08 597.93,87.17 598.2,86.2 C598.47,85.23 598.48,85.13 598.7,85.4 C598.92,85.67 599.18,86.28 599.5,87.8 C599.82,89.32 600.18,92.47 600.6,94.5 C601.02,96.53 601.48,98.72 602,100 C602.52,101.28 603.05,101.55 603.7,102.2 C604.35,102.85 605.23,103.35 605.9,103.9 C606.57,104.45 607.13,105.33 607.7,105.5 C608.27,105.67 608.7,105.28 609.3,104.9 C609.9,104.52 610.6,103.18 611.3,103.2 C612,103.22 612.75,104.45 613.5,105 C614.25,105.55 615.13,107.3 615.8,106.5 C616.47,105.7 617.03,103.13 617.5,100.2 C617.97,97.27 618.22,92.1 618.6,88.9 C618.98,85.7 619.42,83.17 619.8,81 C620.18,78.83 620.62,76.95 620.9,75.9 C621.18,74.85 621.22,74.23 621.5,74.7 C621.78,75.17 622.22,76.72 622.6,78.7 C622.98,80.68 623.42,84.23 623.8,86.6 C624.18,88.97 624.43,91.1 624.9,92.9 C625.37,94.7 625.93,96.08 626.6,97.4 C627.27,98.72 628.25,99.97 628.9,100.8 C629.55,101.63 629.87,102.77 630.5,102.4 C631.13,102.03 631.87,99.88 632.7,98.6 C633.53,97.32 634.77,96.27 635.5,94.7 C636.23,93.13 636.6,90.87 637.1,89.2 C637.6,87.53 638.03,85.08 638.5,84.7 C638.97,84.32 639.4,85.42 639.9,86.9 C640.4,88.38 640.95,91.57 641.5,93.6 C642.05,95.63 642.55,97.45 643.2,99.1 C643.85,100.75 644.67,102.43 645.4,103.5 C646.13,104.57 646.87,105.17 647.6,105.5 C648.33,105.83 649.28,105.55 649.8,105.5 C650.32,105.45 650.55,105.25 650.7,105.2 L650.7,114.5 L525.4,114.5 Z" fill="rgb(255,233,63)" fill-opacity="0.85" stroke="none"/>
<path d="M525.4,113.5 C533.75,113.5 566.98,113.5 575.5,113.5 C576.5,113.5 576.22,113.53 576.5,113.5 C576.78,113.47 576.8,113.72 577.2,113.3 C577.6,112.88 578.35,111.52 578.9,111 C579.45,110.48 579.87,110.28 580.5,110.2 C581.13,110.12 581.97,110.37 582.7,110.5 C583.43,110.63 584.17,110.95 584.9,111 C585.63,111.05 586.37,110.88 587.1,110.8 C587.83,110.72 588.55,110.65 589.3,110.5 C590.05,110.35 590.95,110.18 591.6,109.9 C592.25,109.62 592.7,109.53 593.2,108.8 C593.7,108.07 594.13,107.15 594.6,105.5 C595.07,103.85 595.58,101.28 596,98.9 C596.42,96.52 596.73,93.32 597.1,91.2 C597.47,89.08 597.93,87.17 598.2,86.2 C598.47,85.23 598.48,85.13 598.7,85.4 C598.92,85.67 599.18,86.28 599.5,87.8 C599.82,89.32 600.18,92.47 600.6,94.5 C601.02,96.53 601.48,98.72 602,100 C602.52,101.28 603.05,101.55 603.7,102.2 C604.35,102.85 605.23,103.35 605.9,103.9 C606.57,104.45 607.13,105.33 607.7,105.5 C608.27,105.67 608.7,105.28 609.3,104.9 C609.9,104.52 610.6,103.18 611.3,103.2 C612,103.22 612.75,104.45 613.5,105 C614.25,105.55 615.13,107.3 615.8,106.5 C616.47,105.7 617.03,103.13 617.5,100.2 C617.97,97.27 618.22,92.1 618.6,88.9 C618.98,85.7 619.42,83.17 619.8,81 C620.18,78.83 620.62,76.95 620.9,75.9 C621.18,74.85 621.22,74.23 621.5,74.7 C621.78,75.17 622.22,76.72 622.6,78.7 C622.98,80.68 623.42,84.23 623.8,86.6 C624.18,88.97 624.43,91.1 624.9,92.9 C625.37,94.7 625.93,96.08 626.6,97.4 C627.27,98.72 628.25,99.97 628.9,100.8 C629.55,101.63 629.87,102.77 630.5,102.4 C631.13,102.03 631.87,99.88 632.7,98.6 C633.53,97.32 634.77,96.27 635.5,94.7 C636.23,93.13 636.6,90.87 637.1,89.2 C637.6,87.53 638.03,85.08 638.5,84.7 C638.97,84.32 639.4,85.42 639.9,86.9 C640.4,88.38 640.95,91.57 641.5,93.6 C642.05,95.63 642.55,97.45 643.2,99.1 C643.85,100.75 644.67,102.43 645.4,103.5 C646.13,104.57 646.87,105.17 647.6,105.5 C648.33,105.83 649.28,105.55 649.8,105.5 C650.32,105.45 650.55,105.25 650.7,105.2" fill="none" stroke="#000" stroke-width="1.2" stroke-linejoin="round"/>
</g>
<text x="530.8" y="33.5" font-size="8.6" text-anchor="start">Ir(BT)<tspan font-size="6.6" dy="2.3">2</tspan><tspan dy="-2.3">acac</tspan></text>
<text x="530.4" y="47.7" font-size="8.6" text-anchor="start">Δ<tspan font-style="italic">E</tspan><tspan font-size="6.6" dy="2.3">DA</tspan><tspan dy="-2.3"> = 0.64 eV</tspan></text>
<text x="531" y="64.3" font-size="8.6" text-anchor="start"><tspan font-style="italic">R</tspan><tspan font-size="6.6" dy="2.3">F</tspan><tspan dy="-2.3"> = 2.60 nm</tspan></text>
<clipPath id="cb10"><rect x="395.5" y="117.5" width="125.5" height="93.1"/></clipPath>
<rect x="395.5" y="117.5" width="125.5" height="91.1" fill="none" stroke="#808080" stroke-width="1"/>
<path d="M403.5,117.5v2.2M403.5,208.6v-2.2M434.74,117.5v2.2M434.74,208.6v-2.2M465.98,117.5v2.2M465.98,208.6v-2.2M497.22,117.5v2.2M497.22,208.6v-2.2M395.5,185.84h2.2M395.5,163.08h2.2M395.5,140.32h2.2M521,194.04h-2.2M521,179.48h-2.2M521,164.92h-2.2M521,150.36h-2.2M521,135.8h-2.2M521,121.24h-2.2" stroke="#808080" stroke-width="0.8" fill="none"/>
<g clip-path="url(#cb10)">
<path d="M395.5,208.6 C400,208.6 417.83,208.6 422.5,208.6 C423.5,208.6 422.5,208.68 423.5,208.6 C424.75,208.52 427.27,208.2 430,208.1 C432.73,208 437.17,208.08 439.9,208 C442.63,207.92 444.48,207.8 446.4,207.6 C448.32,207.4 449.68,207.25 451.4,206.8 C453.12,206.35 455.22,205.53 456.7,204.9 C458.18,204.27 459.08,203.83 460.3,203 C461.52,202.17 462.87,201.02 464,199.9 C465.13,198.78 466.08,197.62 467.1,196.3 C468.12,194.98 469.08,193.62 470.1,192 C471.12,190.38 472.17,188.53 473.2,186.6 C474.23,184.67 475.28,182.33 476.3,180.4 C477.32,178.47 478.38,176.33 479.3,175 C480.22,173.67 481.1,172.98 481.8,172.4 C482.5,171.82 482.9,171.37 483.5,171.5 C484.1,171.63 484.62,172.1 485.4,173.2 C486.18,174.3 487.28,176.18 488.2,178.1 C489.12,180.02 490.1,182.38 490.9,184.7 C491.7,187.02 492.32,189.55 493,192 C493.68,194.45 494.4,197.33 495,199.4 C495.6,201.47 496.07,203.08 496.6,204.4 C497.13,205.72 497.67,206.65 498.2,207.3 C498.73,207.95 499.28,208.08 499.8,208.3 C500.32,208.52 499.8,208.55 501.3,208.6 C504.83,208.65 517.72,208.6 521,208.6 L395.5,208.6 Z" fill="#6080ff" stroke="none"/>
<path d="M395.5,208.6 C400,208.6 417.83,208.6 422.5,208.6 C423.5,208.6 422.5,208.68 423.5,208.6 C424.75,208.52 427.27,208.2 430,208.1 C432.73,208 437.17,208.08 439.9,208 C442.63,207.92 444.48,207.8 446.4,207.6 C448.32,207.4 449.68,207.25 451.4,206.8 C453.12,206.35 455.22,205.53 456.7,204.9 C458.18,204.27 459.08,203.83 460.3,203 C461.52,202.17 462.87,201.02 464,199.9 C465.13,198.78 466.08,197.62 467.1,196.3 C468.12,194.98 469.08,193.62 470.1,192 C471.12,190.38 472.17,188.53 473.2,186.6 C474.23,184.67 475.28,182.33 476.3,180.4 C477.32,178.47 478.38,176.33 479.3,175 C480.22,173.67 481.1,172.98 481.8,172.4 C482.5,171.82 482.9,171.37 483.5,171.5 C484.1,171.63 484.62,172.1 485.4,173.2 C486.18,174.3 487.28,176.18 488.2,178.1 C489.12,180.02 490.1,182.38 490.9,184.7 C491.7,187.02 492.32,189.55 493,192 C493.68,194.45 494.4,197.33 495,199.4 C495.6,201.47 496.07,203.08 496.6,204.4 C497.13,205.72 497.67,206.65 498.2,207.3 C498.73,207.95 499.28,208.08 499.8,208.3 C500.32,208.52 499.8,208.55 501.3,208.6 C504.83,208.65 517.72,208.6 521,208.6" fill="none" stroke="#000" stroke-width="1.2" stroke-linejoin="round"/>
<path d="M395.5,208.6 C405.42,208.6 444.92,208.6 455,208.6 C456,208.6 455.62,208.85 456,208.6 C456.38,208.35 456.83,208.35 457.3,207.1 C457.77,205.85 458.43,202.32 458.8,201.1 C459.17,199.88 459.07,199.6 459.5,199.8 C459.93,200 460.77,201.37 461.4,202.3 C462.03,203.23 462.57,204.52 463.3,205.4 C464.03,206.28 465.07,207.4 465.8,207.6 C466.53,207.8 467.18,207.28 467.7,206.6 C468.22,205.92 468.5,205.17 468.9,203.5 C469.3,201.83 469.71,200.05 470.09,196.6 C470.47,193.15 470.9,186.55 471.16,182.8 C471.43,179.05 471.51,176.8 471.68,174.1 C471.86,171.4 472.11,169.85 472.21,166.6 C472.3,163.35 472.21,158.5 472.3,154.6 C472.54,150.7 473.17,143.2 473.6,143.2 C474.03,143.2 474.66,150.7 474.9,154.6 C474.99,158.5 474.93,163.43 474.99,166.6 C475.04,169.77 475.04,171.6 475.22,173.6 C475.4,175.6 475.73,176.65 476.08,178.6 C476.42,180.55 476.94,183.03 477.31,185.3 C477.68,187.57 477.92,190.42 478.3,192.2 C478.68,193.98 479.18,195.1 479.6,196 C480.02,196.9 480.38,197.53 480.8,197.6 C481.22,197.67 481.68,197.18 482.1,196.4 C482.52,195.62 482.88,194.53 483.3,192.9 C483.72,191.27 484.23,189.12 484.6,186.6 C484.97,184.08 485.23,180.52 485.54,177.8 C485.86,175.08 486.22,172.5 486.48,170.3 C486.75,168.1 486.63,170.27 487.13,164.6 C487.64,158.93 488.91,136.3 489.5,136.3 C490.09,136.3 490.37,158.55 490.67,164.6 C490.96,170.65 491.08,170.27 491.3,172.6 C491.51,174.93 491.73,176.68 491.95,178.6 C492.17,180.52 492.33,182.13 492.6,184.1 C492.88,186.07 493.23,188.92 493.6,190.4 C493.97,191.88 494.37,192.43 494.8,193 C495.23,193.57 495.7,193.95 496.2,193.8 C496.7,193.65 497.25,192.68 497.8,192.1 C498.35,191.52 498.95,190.75 499.5,190.3 C500.05,189.85 500.55,189.28 501.1,189.4 C501.65,189.52 502.25,190.08 502.8,191 C503.35,191.92 503.85,193.52 504.4,194.9 C504.95,196.28 505.55,198.1 506.1,199.3 C506.65,200.5 507.15,201.92 507.7,202.1 C508.25,202.28 508.96,201.6 509.4,200.4 C509.84,199.2 510.02,197.28 510.35,194.9 C510.67,192.52 511.07,189.05 511.35,186.1 C511.63,183.15 511.88,179.78 512.05,177.2 C512.22,174.62 512.27,173.12 512.38,170.6 C512.48,168.08 512.45,164.77 512.68,162.1 C512.92,159.43 513.43,154.6 513.8,154.6 C514.17,154.6 514.68,159.43 514.92,162.1 C515.15,164.77 514.99,167.72 515.22,170.6 C515.46,173.48 515.97,176.45 516.32,179.4 C516.67,182.35 517.01,185.72 517.33,188.3 C517.64,190.88 517.87,193.07 518.2,194.9 C518.53,196.73 518.85,198.1 519.3,199.3 C519.75,200.5 520.62,200.55 520.9,202.1 C521,203.65 520.98,207.52 521,208.6 L521,209.6 L395.5,209.6 Z" fill="rgb(255,196,55)" fill-opacity="0.85" stroke="none"/>
<path d="M395.5,208.6 C405.42,208.6 444.92,208.6 455,208.6 C456,208.6 455.62,208.85 456,208.6 C456.38,208.35 456.83,208.35 457.3,207.1 C457.77,205.85 458.43,202.32 458.8,201.1 C459.17,199.88 459.07,199.6 459.5,199.8 C459.93,200 460.77,201.37 461.4,202.3 C462.03,203.23 462.57,204.52 463.3,205.4 C464.03,206.28 465.07,207.4 465.8,207.6 C466.53,207.8 467.18,207.28 467.7,206.6 C468.22,205.92 468.5,205.17 468.9,203.5 C469.3,201.83 469.71,200.05 470.09,196.6 C470.47,193.15 470.9,186.55 471.16,182.8 C471.43,179.05 471.51,176.8 471.68,174.1 C471.86,171.4 472.11,169.85 472.21,166.6 C472.3,163.35 472.21,158.5 472.3,154.6 C472.54,150.7 473.17,143.2 473.6,143.2 C474.03,143.2 474.66,150.7 474.9,154.6 C474.99,158.5 474.93,163.43 474.99,166.6 C475.04,169.77 475.04,171.6 475.22,173.6 C475.4,175.6 475.73,176.65 476.08,178.6 C476.42,180.55 476.94,183.03 477.31,185.3 C477.68,187.57 477.92,190.42 478.3,192.2 C478.68,193.98 479.18,195.1 479.6,196 C480.02,196.9 480.38,197.53 480.8,197.6 C481.22,197.67 481.68,197.18 482.1,196.4 C482.52,195.62 482.88,194.53 483.3,192.9 C483.72,191.27 484.23,189.12 484.6,186.6 C484.97,184.08 485.23,180.52 485.54,177.8 C485.86,175.08 486.22,172.5 486.48,170.3 C486.75,168.1 486.63,170.27 487.13,164.6 C487.64,158.93 488.91,136.3 489.5,136.3 C490.09,136.3 490.37,158.55 490.67,164.6 C490.96,170.65 491.08,170.27 491.3,172.6 C491.51,174.93 491.73,176.68 491.95,178.6 C492.17,180.52 492.33,182.13 492.6,184.1 C492.88,186.07 493.23,188.92 493.6,190.4 C493.97,191.88 494.37,192.43 494.8,193 C495.23,193.57 495.7,193.95 496.2,193.8 C496.7,193.65 497.25,192.68 497.8,192.1 C498.35,191.52 498.95,190.75 499.5,190.3 C500.05,189.85 500.55,189.28 501.1,189.4 C501.65,189.52 502.25,190.08 502.8,191 C503.35,191.92 503.85,193.52 504.4,194.9 C504.95,196.28 505.55,198.1 506.1,199.3 C506.65,200.5 507.15,201.92 507.7,202.1 C508.25,202.28 508.96,201.6 509.4,200.4 C509.84,199.2 510.02,197.28 510.35,194.9 C510.67,192.52 511.07,189.05 511.35,186.1 C511.63,183.15 511.88,179.78 512.05,177.2 C512.22,174.62 512.27,173.12 512.38,170.6 C512.48,168.08 512.45,164.77 512.68,162.1 C512.92,159.43 513.43,154.6 513.8,154.6 C514.17,154.6 514.68,159.43 514.92,162.1 C515.15,164.77 514.99,167.72 515.22,170.6 C515.46,173.48 515.97,176.45 516.32,179.4 C516.67,182.35 517.01,185.72 517.33,188.3 C517.64,190.88 517.87,193.07 518.2,194.9 C518.53,196.73 518.85,198.1 519.3,199.3 C519.75,200.5 520.62,200.55 520.9,202.1 C521,203.65 520.98,207.52 521,208.6" fill="none" stroke="#000" stroke-width="1.2" stroke-linejoin="round"/>
</g>
<text x="402.2" y="129.3" font-size="8.6" text-anchor="start">Ir(dpo)<tspan font-size="6.6" dy="2.3">2</tspan><tspan dy="-2.3">acac</tspan></text>
<text x="401.9" y="143.5" font-size="8.6" text-anchor="start">Δ<tspan font-style="italic">E</tspan><tspan font-size="6.6" dy="2.3">DA</tspan><tspan dy="-2.3"> = 0.68 eV</tspan></text>
<text x="402.6" y="160.3" font-size="8.6" text-anchor="start"><tspan font-style="italic">R</tspan><tspan font-size="6.6" dy="2.3">F</tspan><tspan dy="-2.3"> = 2.94 nm</tspan></text>
<clipPath id="cb11"><rect x="525.4" y="117.5" width="125.2" height="93.1"/></clipPath>
<rect x="525.4" y="117.5" width="125.2" height="91.1" fill="none" stroke="#808080" stroke-width="1"/>
<path d="M533.5,117.5v2.2M533.5,208.6v-2.2M564.74,117.5v2.2M564.74,208.6v-2.2M595.98,117.5v2.2M595.98,208.6v-2.2M627.22,117.5v2.2M627.22,208.6v-2.2M525.4,185.84h2.2M525.4,163.08h2.2M525.4,140.32h2.2M650.6,194.04h-2.2M650.6,179.48h-2.2M650.6,164.92h-2.2M650.6,150.36h-2.2M650.6,135.8h-2.2M650.6,121.24h-2.2" stroke="#808080" stroke-width="0.8" fill="none"/>
<g clip-path="url(#cb11)">
<path d="M525.4,208.6 C529.92,208.6 547.82,208.6 552.5,208.6 C553.5,208.6 552.5,208.68 553.5,208.6 C554.75,208.52 557.27,208.2 560,208.1 C562.73,208 567.17,208.08 569.9,208 C572.63,207.92 574.48,207.8 576.4,207.6 C578.32,207.4 579.68,207.25 581.4,206.8 C583.12,206.35 585.22,205.53 586.7,204.9 C588.18,204.27 589.08,203.83 590.3,203 C591.52,202.17 592.87,201.02 594,199.9 C595.13,198.78 596.08,197.62 597.1,196.3 C598.12,194.98 599.08,193.62 600.1,192 C601.12,190.38 602.17,188.53 603.2,186.6 C604.23,184.67 605.28,182.33 606.3,180.4 C607.32,178.47 608.38,176.33 609.3,175 C610.22,173.67 611.1,172.98 611.8,172.4 C612.5,171.82 612.9,171.37 613.5,171.5 C614.1,171.63 614.62,172.1 615.4,173.2 C616.18,174.3 617.28,176.18 618.2,178.1 C619.12,180.02 620.1,182.38 620.9,184.7 C621.7,187.02 622.32,189.55 623,192 C623.68,194.45 624.4,197.33 625,199.4 C625.6,201.47 626.07,203.08 626.6,204.4 C627.13,205.72 627.67,206.65 628.2,207.3 C628.73,207.95 629.28,208.08 629.8,208.3 C630.32,208.52 629.8,208.55 631.3,208.6 C634.77,208.65 647.38,208.6 650.6,208.6 L525.4,208.6 Z" fill="#6080ff" stroke="none"/>
<path d="M525.4,208.6 C529.92,208.6 547.82,208.6 552.5,208.6 C553.5,208.6 552.5,208.68 553.5,208.6 C554.75,208.52 557.27,208.2 560,208.1 C562.73,208 567.17,208.08 569.9,208 C572.63,207.92 574.48,207.8 576.4,207.6 C578.32,207.4 579.68,207.25 581.4,206.8 C583.12,206.35 585.22,205.53 586.7,204.9 C588.18,204.27 589.08,203.83 590.3,203 C591.52,202.17 592.87,201.02 594,199.9 C595.13,198.78 596.08,197.62 597.1,196.3 C598.12,194.98 599.08,193.62 600.1,192 C601.12,190.38 602.17,188.53 603.2,186.6 C604.23,184.67 605.28,182.33 606.3,180.4 C607.32,178.47 608.38,176.33 609.3,175 C610.22,173.67 611.1,172.98 611.8,172.4 C612.5,171.82 612.9,171.37 613.5,171.5 C614.1,171.63 614.62,172.1 615.4,173.2 C616.18,174.3 617.28,176.18 618.2,178.1 C619.12,180.02 620.1,182.38 620.9,184.7 C621.7,187.02 622.32,189.55 623,192 C623.68,194.45 624.4,197.33 625,199.4 C625.6,201.47 626.07,203.08 626.6,204.4 C627.13,205.72 627.67,206.65 628.2,207.3 C628.73,207.95 629.28,208.08 629.8,208.3 C630.32,208.52 629.8,208.55 631.3,208.6 C634.77,208.65 647.38,208.6 650.6,208.6" fill="none" stroke="#000" stroke-width="1.2" stroke-linejoin="round"/>
<path d="M525.4,208.6 C531.45,208.6 555.48,208.6 561.7,208.6 C562.7,208.6 562.45,208.67 562.7,208.6 C562.95,208.53 562.97,209.33 563.2,208.2 C563.43,207.07 563.83,204.13 564.1,201.8 C564.37,199.47 564.55,196.35 564.8,194.2 C565.05,192.05 565.32,190.15 565.6,188.9 C565.88,187.65 566.22,186.62 566.5,186.7 C566.78,186.78 567.03,188.15 567.3,189.4 C567.57,190.65 567.8,192.5 568.1,194.2 C568.4,195.9 568.75,198.2 569.1,199.6 C569.45,201 569.83,202.2 570.2,202.6 C570.57,203 570.93,202.85 571.3,202 C571.67,201.15 572.05,199.52 572.4,197.5 C572.75,195.48 573.05,192.5 573.4,189.9 C573.75,187.3 574.17,183.83 574.5,181.9 C574.83,179.97 575.1,178.3 575.4,178.3 C575.7,178.3 576,180.13 576.3,181.9 C576.6,183.67 576.87,186.75 577.2,188.9 C577.53,191.05 577.93,193.28 578.3,194.8 C578.67,196.32 578.95,197.02 579.4,198 C579.85,198.98 580.38,199.93 581,200.7 C581.62,201.47 582.38,202.07 583.1,202.6 C583.82,203.13 584.58,203.5 585.3,203.9 C586.02,204.3 586.62,204.73 587.4,205 C588.18,205.27 589.23,205.27 590,205.5 C590.77,205.73 591.37,206.05 592,206.4 C592.63,206.75 592.87,207.3 593.8,207.6 C594.73,207.9 596.57,208.38 597.6,208.2 C598.63,208.02 599.25,207.02 600,206.5 C600.75,205.98 601.38,205.5 602.1,205.1 C602.82,204.7 603.58,203.98 604.3,204.1 C605.02,204.22 605.68,205.17 606.4,205.8 C607.12,206.43 607.75,207.43 608.6,207.9 C609.45,208.37 610.55,208.52 611.5,208.6 C612.45,208.68 613.55,208.87 614.3,208.4 C615.05,207.93 615.52,207.43 616,205.8 C616.48,204.17 616.82,202.18 617.2,198.6 C617.58,195.02 617.95,189.07 618.3,184.3 C618.65,179.53 618.98,178.8 619.3,170 C619.62,161.2 619.87,139.65 620.2,131.5 C620.53,123.35 620.93,121.1 621.3,121.1 C621.67,121.1 622.02,123.12 622.4,131.5 C622.78,139.88 623.23,162.6 623.6,171.4 C623.97,180.2 624.18,180.48 624.6,184.3 C625.02,188.12 625.55,191.63 626.1,194.3 C626.65,196.97 627.28,198.98 627.9,200.3 C628.52,201.62 629.2,202.37 629.8,202.2 C630.4,202.03 630.93,200.97 631.5,199.3 C632.07,197.63 632.72,193.75 633.2,192.2 C633.68,190.65 634.02,189.88 634.4,190 C634.78,190.12 635.07,191.23 635.5,192.9 C635.93,194.57 636.47,198.05 637,200 C637.53,201.95 638.07,203.52 638.7,204.6 C639.33,205.68 640.08,206.07 640.8,206.5 C641.52,206.93 642.28,207.2 643,207.2 C643.72,207.2 644.5,206.73 645.1,206.5 C645.7,206.27 646.12,205.8 646.6,205.8 C647.08,205.8 647.42,206.07 648,206.5 C648.58,206.93 649.65,208.05 650.1,208.4 C650.55,208.75 650.6,208.57 650.7,208.6 L650.7,209.6 L525.4,209.6 Z" fill="rgb(249,87,59)" fill-opacity="0.85" stroke="none"/>
<path d="M525.4,208.6 C531.45,208.6 555.48,208.6 561.7,208.6 C562.7,208.6 562.45,208.67 562.7,208.6 C562.95,208.53 562.97,209.33 563.2,208.2 C563.43,207.07 563.83,204.13 564.1,201.8 C564.37,199.47 564.55,196.35 564.8,194.2 C565.05,192.05 565.32,190.15 565.6,188.9 C565.88,187.65 566.22,186.62 566.5,186.7 C566.78,186.78 567.03,188.15 567.3,189.4 C567.57,190.65 567.8,192.5 568.1,194.2 C568.4,195.9 568.75,198.2 569.1,199.6 C569.45,201 569.83,202.2 570.2,202.6 C570.57,203 570.93,202.85 571.3,202 C571.67,201.15 572.05,199.52 572.4,197.5 C572.75,195.48 573.05,192.5 573.4,189.9 C573.75,187.3 574.17,183.83 574.5,181.9 C574.83,179.97 575.1,178.3 575.4,178.3 C575.7,178.3 576,180.13 576.3,181.9 C576.6,183.67 576.87,186.75 577.2,188.9 C577.53,191.05 577.93,193.28 578.3,194.8 C578.67,196.32 578.95,197.02 579.4,198 C579.85,198.98 580.38,199.93 581,200.7 C581.62,201.47 582.38,202.07 583.1,202.6 C583.82,203.13 584.58,203.5 585.3,203.9 C586.02,204.3 586.62,204.73 587.4,205 C588.18,205.27 589.23,205.27 590,205.5 C590.77,205.73 591.37,206.05 592,206.4 C592.63,206.75 592.87,207.3 593.8,207.6 C594.73,207.9 596.57,208.38 597.6,208.2 C598.63,208.02 599.25,207.02 600,206.5 C600.75,205.98 601.38,205.5 602.1,205.1 C602.82,204.7 603.58,203.98 604.3,204.1 C605.02,204.22 605.68,205.17 606.4,205.8 C607.12,206.43 607.75,207.43 608.6,207.9 C609.45,208.37 610.55,208.52 611.5,208.6 C612.45,208.68 613.55,208.87 614.3,208.4 C615.05,207.93 615.52,207.43 616,205.8 C616.48,204.17 616.82,202.18 617.2,198.6 C617.58,195.02 617.95,189.07 618.3,184.3 C618.65,179.53 618.98,178.8 619.3,170 C619.62,161.2 619.87,139.65 620.2,131.5 C620.53,123.35 620.93,121.1 621.3,121.1 C621.67,121.1 622.02,123.12 622.4,131.5 C622.78,139.88 623.23,162.6 623.6,171.4 C623.97,180.2 624.18,180.48 624.6,184.3 C625.02,188.12 625.55,191.63 626.1,194.3 C626.65,196.97 627.28,198.98 627.9,200.3 C628.52,201.62 629.2,202.37 629.8,202.2 C630.4,202.03 630.93,200.97 631.5,199.3 C632.07,197.63 632.72,193.75 633.2,192.2 C633.68,190.65 634.02,189.88 634.4,190 C634.78,190.12 635.07,191.23 635.5,192.9 C635.93,194.57 636.47,198.05 637,200 C637.53,201.95 638.07,203.52 638.7,204.6 C639.33,205.68 640.08,206.07 640.8,206.5 C641.52,206.93 642.28,207.2 643,207.2 C643.72,207.2 644.5,206.73 645.1,206.5 C645.7,206.27 646.12,205.8 646.6,205.8 C647.08,205.8 647.42,206.07 648,206.5 C648.58,206.93 649.65,208.05 650.1,208.4 C650.55,208.75 650.6,208.57 650.7,208.6" fill="none" stroke="#000" stroke-width="1.2" stroke-linejoin="round"/>
</g>
<text x="530.8" y="129.9" font-size="8.6" text-anchor="start">Ir(MDQ)<tspan font-size="6.6" dy="2.3">2</tspan><tspan dy="-2.3">acac</tspan></text>
<text x="530.4" y="143" font-size="8.6" text-anchor="start">Δ<tspan font-style="italic">E</tspan><tspan font-size="6.6" dy="2.3">DA</tspan><tspan dy="-2.3"> = 0.81 eV</tspan></text>
<text x="531" y="161.1" font-size="8.6" text-anchor="start"><tspan font-style="italic">R</tspan><tspan font-size="6.6" dy="2.3">F</tspan><tspan dy="-2.3"> = 2.54 nm</tspan></text>
<clipPath id="cb20"><rect x="395.5" y="211.6" width="125.5" height="93.6"/></clipPath>
<rect x="395.5" y="211.6" width="125.5" height="91.6" fill="none" stroke="#808080" stroke-width="1"/>
<path d="M403.5,211.6v2.2M403.5,303.2v-2.2M434.74,211.6v2.2M434.74,303.2v-2.2M465.98,211.6v2.2M465.98,303.2v-2.2M497.22,211.6v2.2M497.22,303.2v-2.2M395.5,280.44h2.2M395.5,257.68h2.2M395.5,234.92h2.2M521,288.64h-2.2M521,274.08h-2.2M521,259.52h-2.2M521,244.96h-2.2M521,230.4h-2.2M521,215.84h-2.2" stroke="#808080" stroke-width="0.8" fill="none"/>
<g clip-path="url(#cb20)">
<path d="M395.5,303.2 C400,303.2 417.83,303.2 422.5,303.2 C423.5,303.2 422.5,303.28 423.5,303.2 C424.75,303.12 427.27,302.8 430,302.7 C432.73,302.6 437.17,302.68 439.9,302.6 C442.63,302.52 444.48,302.4 446.4,302.2 C448.32,302 449.68,301.85 451.4,301.4 C453.12,300.95 455.22,300.13 456.7,299.5 C458.18,298.87 459.08,298.43 460.3,297.6 C461.52,296.77 462.87,295.62 464,294.5 C465.13,293.38 466.08,292.22 467.1,290.9 C468.12,289.58 469.08,288.22 470.1,286.6 C471.12,284.98 472.17,283.13 473.2,281.2 C474.23,279.27 475.28,276.93 476.3,275 C477.32,273.07 478.38,270.93 479.3,269.6 C480.22,268.27 481.1,267.58 481.8,267 C482.5,266.42 482.9,265.97 483.5,266.1 C484.1,266.23 484.62,266.7 485.4,267.8 C486.18,268.9 487.28,270.78 488.2,272.7 C489.12,274.62 490.1,276.98 490.9,279.3 C491.7,281.62 492.32,284.15 493,286.6 C493.68,289.05 494.4,291.93 495,294 C495.6,296.07 496.07,297.68 496.6,299 C497.13,300.32 497.67,301.25 498.2,301.9 C498.73,302.55 499.28,302.68 499.8,302.9 C500.32,303.12 499.8,303.15 501.3,303.2 C504.83,303.25 517.72,303.2 521,303.2 L395.5,303.2 Z" fill="#6080ff" stroke="none"/>
<path d="M395.5,303.2 C400,303.2 417.83,303.2 422.5,303.2 C423.5,303.2 422.5,303.28 423.5,303.2 C424.75,303.12 427.27,302.8 430,302.7 C432.73,302.6 437.17,302.68 439.9,302.6 C442.63,302.52 444.48,302.4 446.4,302.2 C448.32,302 449.68,301.85 451.4,301.4 C453.12,300.95 455.22,300.13 456.7,299.5 C458.18,298.87 459.08,298.43 460.3,297.6 C461.52,296.77 462.87,295.62 464,294.5 C465.13,293.38 466.08,292.22 467.1,290.9 C468.12,289.58 469.08,288.22 470.1,286.6 C471.12,284.98 472.17,283.13 473.2,281.2 C474.23,279.27 475.28,276.93 476.3,275 C477.32,273.07 478.38,270.93 479.3,269.6 C480.22,268.27 481.1,267.58 481.8,267 C482.5,266.42 482.9,265.97 483.5,266.1 C484.1,266.23 484.62,266.7 485.4,267.8 C486.18,268.9 487.28,270.78 488.2,272.7 C489.12,274.62 490.1,276.98 490.9,279.3 C491.7,281.62 492.32,284.15 493,286.6 C493.68,289.05 494.4,291.93 495,294 C495.6,296.07 496.07,297.68 496.6,299 C497.13,300.32 497.67,301.25 498.2,301.9 C498.73,302.55 499.28,302.68 499.8,302.9 C500.32,303.12 499.8,303.15 501.3,303.2 C504.83,303.25 517.72,303.2 521,303.2" fill="none" stroke="#000" stroke-width="1.2" stroke-linejoin="round"/>
<path d="M395.5,303.2 C402.42,303.2 429.92,303.2 437,303.2 C438,303.2 437.67,303.27 438,303.2 C438.33,303.13 438.5,303.18 439,302.8 C439.5,302.42 440.33,300.9 441,300.9 C441.67,300.9 442.5,302.42 443,302.8 C443.5,303.18 443,303.13 444,303.2 C448,303.27 463,303.28 467,303.2 C468,303.12 467.5,302.97 468,302.7 C468.5,302.43 469.48,302.52 470,301.6 C470.52,300.68 470.78,299.22 471.1,297.2 C471.42,295.18 471.63,292.87 471.9,289.5 C472.17,286.13 472.43,281.15 472.7,277 C472.97,272.85 473.25,268.22 473.5,264.6 C473.75,260.98 473.98,258.12 474.2,255.3 C474.42,252.48 474.57,250.77 474.8,247.7 C475.03,244.63 475.27,238.02 475.6,236.9 C475.93,235.78 476.42,236.38 476.8,241 C477.18,245.62 477.55,258.6 477.9,264.6 C478.25,270.6 478.48,273.5 478.9,277 C479.32,280.5 479.75,283.52 480.4,285.6 C481.05,287.68 481.88,288.6 482.8,289.5 C483.72,290.4 485,290.75 485.9,291 C486.8,291.25 487.43,290.68 488.2,291 C488.97,291.32 489.72,291.98 490.5,292.9 C491.28,293.82 492.12,295.57 492.9,296.5 C493.68,297.43 494.43,298.77 495.2,298.5 C495.97,298.23 496.85,296.92 497.5,294.9 C498.15,292.88 498.67,288.6 499.1,286.4 C499.53,284.2 499.72,281.83 500.1,281.7 C500.48,281.57 500.93,283.53 501.4,285.6 C501.87,287.67 502.25,291.9 502.9,294.1 C503.55,296.3 504.38,297.72 505.3,298.8 C506.22,299.88 507.37,300.35 508.4,300.6 C509.43,300.85 510.6,300.98 511.5,300.3 C512.4,299.62 513.03,297.58 513.8,296.5 C514.57,295.42 515.38,293.93 516.1,293.8 C516.82,293.67 517.45,294.73 518.1,295.7 C518.75,296.67 519.43,298.62 520,299.6 C520.57,300.58 521.25,301.27 521.5,301.6 L521.5,304.2 L395.5,304.2 Z" fill="rgb(231,61,61)" fill-opacity="0.85" stroke="none"/>
<path d="M395.5,303.2 C402.42,303.2 429.92,303.2 437,303.2 C438,303.2 437.67,303.27 438,303.2 C438.33,303.13 438.5,303.18 439,302.8 C439.5,302.42 440.33,300.9 441,300.9 C441.67,300.9 442.5,302.42 443,302.8 C443.5,303.18 443,303.13 444,303.2 C448,303.27 463,303.28 467,303.2 C468,303.12 467.5,302.97 468,302.7 C468.5,302.43 469.48,302.52 470,301.6 C470.52,300.68 470.78,299.22 471.1,297.2 C471.42,295.18 471.63,292.87 471.9,289.5 C472.17,286.13 472.43,281.15 472.7,277 C472.97,272.85 473.25,268.22 473.5,264.6 C473.75,260.98 473.98,258.12 474.2,255.3 C474.42,252.48 474.57,250.77 474.8,247.7 C475.03,244.63 475.27,238.02 475.6,236.9 C475.93,235.78 476.42,236.38 476.8,241 C477.18,245.62 477.55,258.6 477.9,264.6 C478.25,270.6 478.48,273.5 478.9,277 C479.32,280.5 479.75,283.52 480.4,285.6 C481.05,287.68 481.88,288.6 482.8,289.5 C483.72,290.4 485,290.75 485.9,291 C486.8,291.25 487.43,290.68 488.2,291 C488.97,291.32 489.72,291.98 490.5,292.9 C491.28,293.82 492.12,295.57 492.9,296.5 C493.68,297.43 494.43,298.77 495.2,298.5 C495.97,298.23 496.85,296.92 497.5,294.9 C498.15,292.88 498.67,288.6 499.1,286.4 C499.53,284.2 499.72,281.83 500.1,281.7 C500.48,281.57 500.93,283.53 501.4,285.6 C501.87,287.67 502.25,291.9 502.9,294.1 C503.55,296.3 504.38,297.72 505.3,298.8 C506.22,299.88 507.37,300.35 508.4,300.6 C509.43,300.85 510.6,300.98 511.5,300.3 C512.4,299.62 513.03,297.58 513.8,296.5 C514.57,295.42 515.38,293.93 516.1,293.8 C516.82,293.67 517.45,294.73 518.1,295.7 C518.75,296.67 519.43,298.62 520,299.6 C520.57,300.58 521.25,301.27 521.5,301.6" fill="none" stroke="#000" stroke-width="1.2" stroke-linejoin="round"/>
</g>
<text x="402.2" y="223.9" font-size="8.6" text-anchor="start">Ir(BTP)<tspan font-size="6.6" dy="2.3">2</tspan><tspan dy="-2.3">acac</tspan></text>
<text x="401.9" y="237.3" font-size="8.6" text-anchor="start">Δ<tspan font-style="italic">E</tspan><tspan font-size="6.6" dy="2.3">DA</tspan><tspan dy="-2.3"> = 0.88 eV</tspan></text>
<text x="402.6" y="256.1" font-size="8.6" text-anchor="start"><tspan font-style="italic">R</tspan><tspan font-size="6.6" dy="2.3">F</tspan><tspan dy="-2.3"> = 2.72 nm</tspan></text>
<clipPath id="cb21"><rect x="525.4" y="211.6" width="125.2" height="93.6"/></clipPath>
<rect x="525.4" y="211.6" width="125.2" height="91.6" fill="none" stroke="#808080" stroke-width="1"/>
<path d="M533.5,211.6v2.2M533.5,303.2v-2.2M564.74,211.6v2.2M564.74,303.2v-2.2M595.98,211.6v2.2M595.98,303.2v-2.2M627.22,211.6v2.2M627.22,303.2v-2.2M525.4,280.44h2.2M525.4,257.68h2.2M525.4,234.92h2.2M650.6,274.08h-2.2M650.6,244.96h-2.2M650.6,215.84h-2.2" stroke="#808080" stroke-width="0.8" fill="none"/>
<g clip-path="url(#cb21)">
<path d="M525.4,303.2 C529.92,303.2 547.82,303.2 552.5,303.2 C553.5,303.2 552.5,303.28 553.5,303.2 C554.75,303.12 557.27,302.8 560,302.7 C562.73,302.6 567.17,302.68 569.9,302.6 C572.63,302.52 574.48,302.4 576.4,302.2 C578.32,302 579.68,301.85 581.4,301.4 C583.12,300.95 585.22,300.13 586.7,299.5 C588.18,298.87 589.08,298.43 590.3,297.6 C591.52,296.77 592.87,295.62 594,294.5 C595.13,293.38 596.08,292.22 597.1,290.9 C598.12,289.58 599.08,288.22 600.1,286.6 C601.12,284.98 602.17,283.13 603.2,281.2 C604.23,279.27 605.28,276.93 606.3,275 C607.32,273.07 608.38,270.93 609.3,269.6 C610.22,268.27 611.1,267.58 611.8,267 C612.5,266.42 612.9,265.97 613.5,266.1 C614.1,266.23 614.62,266.7 615.4,267.8 C616.18,268.9 617.28,270.78 618.2,272.7 C619.12,274.62 620.1,276.98 620.9,279.3 C621.7,281.62 622.32,284.15 623,286.6 C623.68,289.05 624.4,291.93 625,294 C625.6,296.07 626.07,297.68 626.6,299 C627.13,300.32 627.67,301.25 628.2,301.9 C628.73,302.55 629.28,302.68 629.8,302.9 C630.32,303.12 629.8,303.15 631.3,303.2 C634.77,303.25 647.38,303.2 650.6,303.2 L525.4,303.2 Z" fill="#6080ff" stroke="none"/>
<path d="M525.4,303.2 C529.92,303.2 547.82,303.2 552.5,303.2 C553.5,303.2 552.5,303.28 553.5,303.2 C554.75,303.12 557.27,302.8 560,302.7 C562.73,302.6 567.17,302.68 569.9,302.6 C572.63,302.52 574.48,302.4 576.4,302.2 C578.32,302 579.68,301.85 581.4,301.4 C583.12,300.95 585.22,300.13 586.7,299.5 C588.18,298.87 589.08,298.43 590.3,297.6 C591.52,296.77 592.87,295.62 594,294.5 C595.13,293.38 596.08,292.22 597.1,290.9 C598.12,289.58 599.08,288.22 600.1,286.6 C601.12,284.98 602.17,283.13 603.2,281.2 C604.23,279.27 605.28,276.93 606.3,275 C607.32,273.07 608.38,270.93 609.3,269.6 C610.22,268.27 611.1,267.58 611.8,267 C612.5,266.42 612.9,265.97 613.5,266.1 C614.1,266.23 614.62,266.7 615.4,267.8 C616.18,268.9 617.28,270.78 618.2,272.7 C619.12,274.62 620.1,276.98 620.9,279.3 C621.7,281.62 622.32,284.15 623,286.6 C623.68,289.05 624.4,291.93 625,294 C625.6,296.07 626.07,297.68 626.6,299 C627.13,300.32 627.67,301.25 628.2,301.9 C628.73,302.55 629.28,302.68 629.8,302.9 C630.32,303.12 629.8,303.15 631.3,303.2 C634.77,303.25 647.38,303.2 650.6,303.2" fill="none" stroke="#000" stroke-width="1.2" stroke-linejoin="round"/>
<path d="M525.4,303.2 C530.67,303.2 551.57,303.2 557,303.2 C558,303.2 557.7,303.3 558,303.2 C558.3,303.1 558.38,304.18 558.8,302.6 C559.22,301.02 560,296.1 560.5,293.7 C561,291.3 561.43,288.38 561.8,288.2 C562.17,288.02 562.42,290.95 562.7,292.6 C562.98,294.25 563.13,296.82 563.5,298.1 C563.87,299.38 564.12,299.83 564.9,300.3 C565.68,300.77 567.1,300.93 568.2,300.9 C569.3,300.87 570.5,300.2 571.5,300.1 C572.5,300 573.28,300.12 574.2,300.3 C575.12,300.48 575.8,301.1 577,301.2 C578.2,301.3 579.93,301.05 581.4,300.9 C582.87,300.75 584.5,300.58 585.8,300.3 C587.1,300.02 588.33,299.55 589.2,299.2 C590.07,298.85 590.42,299.35 591,298.2 C591.58,297.05 592.13,293.77 592.7,292.3 C593.27,290.83 593.83,289.4 594.4,289.4 C594.97,289.4 595.4,291.12 596.1,292.3 C596.8,293.48 597.75,295.52 598.6,296.5 C599.45,297.48 600.4,298.2 601.2,298.2 C602,298.2 602.75,298.2 603.4,296.5 C604.05,294.8 604.64,291.97 605.1,288 C605.56,284.03 605.8,277.8 606.17,272.7 C606.54,267.6 606.95,261.65 607.3,257.4 C607.65,253.15 607.94,253.13 608.26,247.2 C608.58,241.27 608.79,221.8 609.2,221.8 C609.61,221.8 610.34,240.7 610.74,247.2 C611.14,253.7 611.24,255.98 611.58,260.8 C611.93,265.62 612.26,271.98 612.8,276.1 C613.34,280.22 614.18,283.52 614.8,285.5 C615.42,287.48 615.93,288.28 616.5,288 C617.07,287.72 617.63,286.35 618.2,283.8 C618.77,281.25 619.33,276.38 619.9,272.7 C620.47,269.02 621.03,264.38 621.6,261.7 C622.17,259.02 622.73,256.88 623.3,256.6 C623.87,256.32 624.43,257.32 625,260 C625.57,262.68 626.13,268.32 626.7,272.7 C627.27,277.08 627.75,282.9 628.4,286.3 C629.05,289.7 629.75,291.68 630.6,293.1 C631.45,294.52 632.58,295.22 633.5,294.8 C634.42,294.38 635.23,292.02 636.1,290.6 C636.97,289.18 637.98,286.58 638.7,286.3 C639.42,286.02 639.7,287.33 640.4,288.9 C641.1,290.47 642.05,294 642.9,295.7 C643.75,297.4 644.65,298.25 645.5,299.1 C646.35,299.95 647.15,300.43 648,300.8 C648.85,301.17 650.17,301.22 650.6,301.3 L650.6,304.2 L525.4,304.2 Z" fill="rgb(179,49,49)" fill-opacity="0.85" stroke="none"/>
<path d="M525.4,303.2 C530.67,303.2 551.57,303.2 557,303.2 C558,303.2 557.7,303.3 558,303.2 C558.3,303.1 558.38,304.18 558.8,302.6 C559.22,301.02 560,296.1 560.5,293.7 C561,291.3 561.43,288.38 561.8,288.2 C562.17,288.02 562.42,290.95 562.7,292.6 C562.98,294.25 563.13,296.82 563.5,298.1 C563.87,299.38 564.12,299.83 564.9,300.3 C565.68,300.77 567.1,300.93 568.2,300.9 C569.3,300.87 570.5,300.2 571.5,300.1 C572.5,300 573.28,300.12 574.2,300.3 C575.12,300.48 575.8,301.1 577,301.2 C578.2,301.3 579.93,301.05 581.4,300.9 C582.87,300.75 584.5,300.58 585.8,300.3 C587.1,300.02 588.33,299.55 589.2,299.2 C590.07,298.85 590.42,299.35 591,298.2 C591.58,297.05 592.13,293.77 592.7,292.3 C593.27,290.83 593.83,289.4 594.4,289.4 C594.97,289.4 595.4,291.12 596.1,292.3 C596.8,293.48 597.75,295.52 598.6,296.5 C599.45,297.48 600.4,298.2 601.2,298.2 C602,298.2 602.75,298.2 603.4,296.5 C604.05,294.8 604.64,291.97 605.1,288 C605.56,284.03 605.8,277.8 606.17,272.7 C606.54,267.6 606.95,261.65 607.3,257.4 C607.65,253.15 607.94,253.13 608.26,247.2 C608.58,241.27 608.79,221.8 609.2,221.8 C609.61,221.8 610.34,240.7 610.74,247.2 C611.14,253.7 611.24,255.98 611.58,260.8 C611.93,265.62 612.26,271.98 612.8,276.1 C613.34,280.22 614.18,283.52 614.8,285.5 C615.42,287.48 615.93,288.28 616.5,288 C617.07,287.72 617.63,286.35 618.2,283.8 C618.77,281.25 619.33,276.38 619.9,272.7 C620.47,269.02 621.03,264.38 621.6,261.7 C622.17,259.02 622.73,256.88 623.3,256.6 C623.87,256.32 624.43,257.32 625,260 C625.57,262.68 626.13,268.32 626.7,272.7 C627.27,277.08 627.75,282.9 628.4,286.3 C629.05,289.7 629.75,291.68 630.6,293.1 C631.45,294.52 632.58,295.22 633.5,294.8 C634.42,294.38 635.23,292.02 636.1,290.6 C636.97,289.18 637.98,286.58 638.7,286.3 C639.42,286.02 639.7,287.33 640.4,288.9 C641.1,290.47 642.05,294 642.9,295.7 C643.75,297.4 644.65,298.25 645.5,299.1 C646.35,299.95 647.15,300.43 648,300.8 C648.85,301.17 650.17,301.22 650.6,301.3" fill="none" stroke="#000" stroke-width="1.2" stroke-linejoin="round"/>
</g>
<text x="529.6" y="222.9" font-size="8.6" text-anchor="start">NIr</text>
<text x="530.4" y="236.7" font-size="8.6" text-anchor="start">Δ<tspan font-style="italic">E</tspan><tspan font-size="6.6" dy="2.3">DA</tspan><tspan dy="-2.3"> = 1.26 eV</tspan></text>
<text x="531" y="254.1" font-size="8.6" text-anchor="start"><tspan font-style="italic">R</tspan><tspan font-size="6.6" dy="2.3">F</tspan><tspan dy="-2.3"> = 3.82 nm</tspan></text>
<text x="391.2" y="25.96" font-size="10" text-anchor="end">0.16</text>
<text x="391.2" y="48.72" font-size="10" text-anchor="end">0.12</text>
<text x="391.2" y="71.48" font-size="10" text-anchor="end">0.08</text>
<text x="391.2" y="94.24" font-size="10" text-anchor="end">0.04</text>
<text x="391.2" y="117" font-size="10" text-anchor="end">0.00</text>
<text x="655.9" y="29.34" font-size="10" text-anchor="start">12</text>
<text x="655.9" y="58.46" font-size="10" text-anchor="start">8</text>
<text x="655.9" y="87.58" font-size="10" text-anchor="start">4</text>
<text x="655.9" y="116.7" font-size="10" text-anchor="start">0</text>
<text x="391.2" y="143.82" font-size="10" text-anchor="end">0.12</text>
<text x="391.2" y="166.58" font-size="10" text-anchor="end">0.08</text>
<text x="391.2" y="189.34" font-size="10" text-anchor="end">0.04</text>
<text x="391.2" y="212.1" font-size="10" text-anchor="end">0.00</text>
<text x="655.9" y="153.56" font-size="10" text-anchor="start">8</text>
<text x="655.9" y="182.68" font-size="10" text-anchor="start">4</text>
<text x="655.9" y="211.8" font-size="10" text-anchor="start">0</text>
<text x="391.2" y="238.42" font-size="10" text-anchor="end">0.12</text>
<text x="391.2" y="261.18" font-size="10" text-anchor="end">0.08</text>
<text x="391.2" y="283.94" font-size="10" text-anchor="end">0.04</text>
<text x="391.2" y="306.7" font-size="10" text-anchor="end">0.00</text>
<text x="655.9" y="248.16" font-size="10" text-anchor="start">8</text>
<text x="655.9" y="277.28" font-size="10" text-anchor="start">4</text>
<text x="655.9" y="306.4" font-size="10" text-anchor="start">0</text>
<text x="403.5" y="315.7" font-size="10" text-anchor="middle">1.6</text>
<text x="434.74" y="315.7" font-size="10" text-anchor="middle">2.0</text>
<text x="465.98" y="315.7" font-size="10" text-anchor="middle">2.4</text>
<text x="497.22" y="315.7" font-size="10" text-anchor="middle">2.8</text>
<text x="533.5" y="315.7" font-size="10" text-anchor="middle">1.6</text>
<text x="564.74" y="315.7" font-size="10" text-anchor="middle">2.0</text>
<text x="595.98" y="315.7" font-size="10" text-anchor="middle">2.4</text>
<text x="627.22" y="315.7" font-size="10" text-anchor="middle">2.8</text>
<circle cx="90.1" cy="95" r="2.5" fill="none" stroke="#000" stroke-width="0.9"/>
<path d="M87.6,95H79.8" stroke="#222" stroke-width="1" fill="none"/>
<path d="M74.3,95L80.9,92.9L79.5,95L80.9,97.1Z" fill="#000"/>
<circle cx="119.3" cy="70.8" r="2.5" fill="none" stroke="#000" stroke-width="0.9"/>
<path d="M121.9,71H130.3" stroke="#222" stroke-width="1" fill="none"/>
<path d="M135.8,71L129.2,68.9L130.6,71L129.2,73.1Z" fill="#000"/>
<circle cx="469.9" cy="68.2" r="2.5" fill="none" stroke="#000" stroke-width="0.9"/>
<path d="M472.5,68.4H480.3" stroke="#222" stroke-width="1" fill="none"/>
<path d="M485.8,68.4L479.2,66.3L480.6,68.4L479.2,70.5Z" fill="#000"/>
<circle cx="483.5" cy="76.2" r="2.5" fill="none" stroke="#000" stroke-width="0.9"/>
<path d="M480.9,76.5H464.8" stroke="#222" stroke-width="1" fill="none"/>
<path d="M459.3,76.5L465.9,74.4L464.5,76.5L465.9,78.6Z" fill="#000"/>
<text x="254.2" y="66.5" font-size="9.4" font-weight="bold" fill="#000">S<tspan font-size="7" dy="3">1</tspan></text>
<path d="M256,70.2L249.2,83.7" stroke="#000" stroke-width="0.9" fill="none"/>
<path d="M261.2,71.2L269.6,76.9" stroke="#000" stroke-width="0.9" fill="none"/>
<text x="603.7" y="63.9" font-size="9.4" font-weight="bold" fill="#000">S<tspan font-size="7" dy="3">1</tspan></text>
<path d="M605.4,68.1L599,81.6" stroke="#000" stroke-width="0.9" fill="none"/>
<path d="M611.2,69.1L618.2,74.6" stroke="#000" stroke-width="0.9" fill="none"/>
<text x="143.5" y="239.6" font-size="9.4" font-weight="bold" fill="#000">S<tspan font-size="7" dy="3">1</tspan></text>
<path d="M140.5,239.1L129,245.5" stroke="#000" stroke-width="0.9" fill="none"/>
<text x="493.6" y="235.2" font-size="9.4" font-weight="bold" fill="#000">S<tspan font-size="7" dy="3">1</tspan></text>
<path d="M491.6,234.4L480.2,241.2" stroke="#000" stroke-width="0.9" fill="none"/>
<text x="269" y="228.8" font-size="8.6" text-anchor="start">× 0.2</text>
<path d="M270.7,231.3L262.3,240.6" stroke="#000" stroke-width="0.9" fill="none"/>
<text x="616.6" y="222.8" font-size="8.6" text-anchor="start">× 0.2</text>
<path d="M619.9,225.3L611.5,234.6" stroke="#000" stroke-width="0.9" fill="none"/>
<text x="-0.6" y="10.7" font-size="15" text-anchor="start" font-weight="bold">a</text>
<text x="352.6" y="10.7" font-size="15" text-anchor="start" font-weight="bold">b</text>
<text x="142" y="15.7" font-size="10" text-anchor="start">Ir(ppy)<tspan font-size="7" dy="2.8">3</tspan><tspan dy="-2.8"> donor</tspan></text>
<text x="483.6" y="12.9" font-size="10" text-anchor="start"><tspan font-style="italic">fac</tspan>-Ir(pmp)<tspan font-size="7" dy="2.8">3</tspan><tspan dy="-2.8"> donor</tspan></text>
<text x="166.3" y="332.9" font-size="10" text-anchor="middle">Energy (eV)</text>
<text x="516.3" y="329.5" font-size="10" text-anchor="middle">Energy (eV)</text>
<text transform="translate(13.4,165.2) rotate(-90)" font-size="10.2" text-anchor="middle">Sq. trans. dip. μ<tspan font-size="7" dy="2.5">D</tspan><tspan font-size="7" dx="-2.4" dy="-7">2</tspan><tspan dy="4.5"> (a.u.</tspan><tspan font-size="7" dy="-5">2</tspan><tspan dy="5">/eV)</tspan></text>
<text transform="translate(333.3,165.2) rotate(-90)" font-size="10.2" text-anchor="middle">Sq. trans. dip. μ<tspan font-size="7" dy="2.5">A</tspan><tspan font-size="7" dx="-2.4" dy="-7">2</tspan><tspan dy="4.5"> (a.u.</tspan><tspan font-size="7" dy="-5">2</tspan><tspan dy="5">/eV)</tspan></text>
<text transform="translate(363.7,165.2) rotate(-90)" font-size="10.2" text-anchor="middle">Sq. trans. dip. μ<tspan font-size="7" dy="2.5">D</tspan><tspan font-size="7" dx="-2.4" dy="-7">2</tspan><tspan dy="4.5"> (a.u.</tspan><tspan font-size="7" dy="-5">2</tspan><tspan dy="5">/eV)</tspan></text>
<text transform="translate(682.5,165.2) rotate(-90)" font-size="10.2" text-anchor="middle">Sq. trans. dip. μ<tspan font-size="7" dy="2.5">A</tspan><tspan font-size="7" dx="-2.4" dy="-7">2</tspan><tspan dy="4.5"> (a.u.</tspan><tspan font-size="7" dy="-5">2</tspan><tspan dy="5">/eV)</tspan></text>
</svg>
</body></html>
